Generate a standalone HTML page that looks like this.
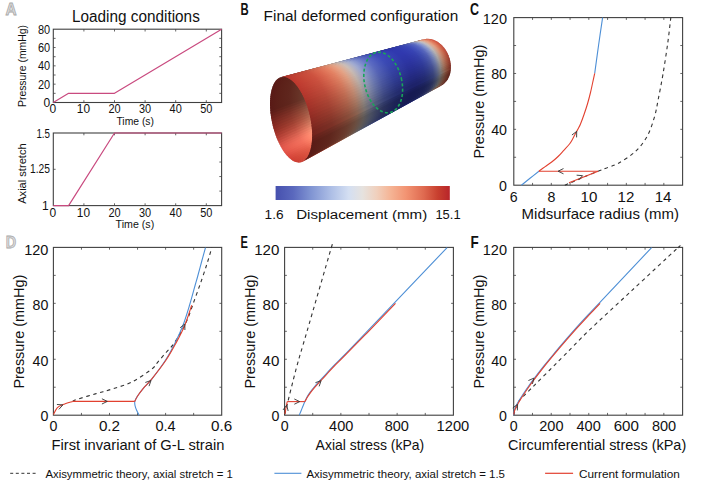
<!DOCTYPE html><html><head><meta charset="utf-8"><style>html,body{margin:0;padding:0;background:#fff;overflow:hidden}svg{display:block}text{font-family:"Liberation Sans", sans-serif}</style></head><body>
<svg width="709" height="488" viewBox="0 0 709 488">
<rect width="709" height="488" fill="#fff"/>
<g id="cyl"><defs><linearGradient id="g1" gradientUnits="userSpaceOnUse" x1="312.2" y1="136.5" x2="450.8" y2="69.4"><stop offset="0.000" stop-color="#6c201a"/><stop offset="0.073" stop-color="#70281f"/><stop offset="0.142" stop-color="#742e24"/><stop offset="0.206" stop-color="#7c3c2d"/><stop offset="0.267" stop-color="#824a39"/><stop offset="0.323" stop-color="#835d4d"/><stop offset="0.377" stop-color="#746c67"/><stop offset="0.428" stop-color="#5c6176"/><stop offset="0.476" stop-color="#454e74"/><stop offset="0.522" stop-color="#353d6f"/><stop offset="0.565" stop-color="#2b336c"/><stop offset="0.606" stop-color="#232b69"/><stop offset="0.645" stop-color="#202767"/><stop offset="0.682" stop-color="#1e2465"/><stop offset="0.718" stop-color="#1b2063"/><stop offset="0.752" stop-color="#1b2064"/><stop offset="0.784" stop-color="#1d2365"/><stop offset="0.815" stop-color="#202767"/><stop offset="0.845" stop-color="#27306b"/><stop offset="0.873" stop-color="#333c6f"/><stop offset="0.901" stop-color="#4d5576"/><stop offset="0.927" stop-color="#6f6d6d"/><stop offset="0.952" stop-color="#835d4c"/><stop offset="0.977" stop-color="#7f4231"/><stop offset="1.000" stop-color="#722a21"/></linearGradient><linearGradient id="g2" gradientUnits="userSpaceOnUse" x1="312.1" y1="139.3" x2="450.6" y2="71.0"><stop offset="0.000" stop-color="#661e19"/><stop offset="0.073" stop-color="#69251d"/><stop offset="0.142" stop-color="#6d2c22"/><stop offset="0.206" stop-color="#75382b"/><stop offset="0.266" stop-color="#7a4635"/><stop offset="0.323" stop-color="#7b5848"/><stop offset="0.377" stop-color="#6d6561"/><stop offset="0.428" stop-color="#565b6f"/><stop offset="0.476" stop-color="#41496d"/><stop offset="0.521" stop-color="#313a68"/><stop offset="0.565" stop-color="#283065"/><stop offset="0.606" stop-color="#202963"/><stop offset="0.645" stop-color="#1e2561"/><stop offset="0.682" stop-color="#1c225f"/><stop offset="0.718" stop-color="#1a1e5d"/><stop offset="0.752" stop-color="#1a1e5d"/><stop offset="0.784" stop-color="#1b215f"/><stop offset="0.815" stop-color="#1e2561"/><stop offset="0.845" stop-color="#252d64"/><stop offset="0.873" stop-color="#303868"/><stop offset="0.901" stop-color="#48506f"/><stop offset="0.927" stop-color="#696767"/><stop offset="0.952" stop-color="#7b5747"/><stop offset="0.977" stop-color="#783e2e"/><stop offset="1.000" stop-color="#6b281f"/></linearGradient><linearGradient id="g3" gradientUnits="userSpaceOnUse" x1="311.9" y1="142.0" x2="450.3" y2="72.6"><stop offset="0.000" stop-color="#5f1c17"/><stop offset="0.073" stop-color="#62231b"/><stop offset="0.142" stop-color="#662920"/><stop offset="0.206" stop-color="#6d3428"/><stop offset="0.266" stop-color="#724132"/><stop offset="0.323" stop-color="#735243"/><stop offset="0.377" stop-color="#665f5b"/><stop offset="0.428" stop-color="#505568"/><stop offset="0.476" stop-color="#3d4566"/><stop offset="0.521" stop-color="#2e3662"/><stop offset="0.564" stop-color="#252d5f"/><stop offset="0.605" stop-color="#1e265c"/><stop offset="0.645" stop-color="#1c235a"/><stop offset="0.682" stop-color="#1a1f59"/><stop offset="0.717" stop-color="#181c57"/><stop offset="0.751" stop-color="#181c57"/><stop offset="0.784" stop-color="#1a1f59"/><stop offset="0.815" stop-color="#1c225a"/><stop offset="0.845" stop-color="#222a5e"/><stop offset="0.873" stop-color="#2d3561"/><stop offset="0.901" stop-color="#434b67"/><stop offset="0.927" stop-color="#626060"/><stop offset="0.952" stop-color="#735243"/><stop offset="0.977" stop-color="#703a2b"/><stop offset="1.000" stop-color="#64251d"/></linearGradient><linearGradient id="g4" gradientUnits="userSpaceOnUse" x1="311.6" y1="144.6" x2="450.0" y2="74.1"><stop offset="0.000" stop-color="#591a16"/><stop offset="0.073" stop-color="#5c2119"/><stop offset="0.141" stop-color="#5f261d"/><stop offset="0.206" stop-color="#663125"/><stop offset="0.266" stop-color="#6a3d2f"/><stop offset="0.323" stop-color="#6b4d3f"/><stop offset="0.377" stop-color="#5f5855"/><stop offset="0.427" stop-color="#4b5061"/><stop offset="0.475" stop-color="#39405f"/><stop offset="0.521" stop-color="#2b325b"/><stop offset="0.564" stop-color="#232a58"/><stop offset="0.605" stop-color="#1c2356"/><stop offset="0.644" stop-color="#1a2055"/><stop offset="0.682" stop-color="#181d53"/><stop offset="0.717" stop-color="#161a52"/><stop offset="0.751" stop-color="#161b52"/><stop offset="0.784" stop-color="#181d53"/><stop offset="0.815" stop-color="#1a2054"/><stop offset="0.845" stop-color="#202758"/><stop offset="0.873" stop-color="#2a315b"/><stop offset="0.901" stop-color="#3f4661"/><stop offset="0.927" stop-color="#5b5a5a"/><stop offset="0.952" stop-color="#6c4c3e"/><stop offset="0.977" stop-color="#693629"/><stop offset="1.000" stop-color="#5d231b"/></linearGradient><linearGradient id="g5" gradientUnits="userSpaceOnUse" x1="311.2" y1="147.0" x2="449.5" y2="75.5"><stop offset="0.000" stop-color="#591a16"/><stop offset="0.073" stop-color="#5c2119"/><stop offset="0.141" stop-color="#5f261d"/><stop offset="0.205" stop-color="#663125"/><stop offset="0.266" stop-color="#6a3d2f"/><stop offset="0.323" stop-color="#6b4d3f"/><stop offset="0.376" stop-color="#5f5855"/><stop offset="0.427" stop-color="#4b5061"/><stop offset="0.475" stop-color="#39405f"/><stop offset="0.521" stop-color="#2b325b"/><stop offset="0.564" stop-color="#232a58"/><stop offset="0.605" stop-color="#1c2356"/><stop offset="0.644" stop-color="#1a2055"/><stop offset="0.681" stop-color="#181d53"/><stop offset="0.717" stop-color="#161a52"/><stop offset="0.751" stop-color="#161b52"/><stop offset="0.784" stop-color="#181d53"/><stop offset="0.815" stop-color="#1a2054"/><stop offset="0.844" stop-color="#202758"/><stop offset="0.873" stop-color="#2a315b"/><stop offset="0.900" stop-color="#3f4661"/><stop offset="0.927" stop-color="#5b5a5a"/><stop offset="0.952" stop-color="#6c4c3e"/><stop offset="0.977" stop-color="#693629"/><stop offset="1.000" stop-color="#5d231b"/></linearGradient><linearGradient id="g6" gradientUnits="userSpaceOnUse" x1="310.7" y1="149.3" x2="449.0" y2="76.9"><stop offset="0.000" stop-color="#591a16"/><stop offset="0.073" stop-color="#5c2119"/><stop offset="0.141" stop-color="#5f261d"/><stop offset="0.205" stop-color="#663125"/><stop offset="0.265" stop-color="#6a3d2f"/><stop offset="0.322" stop-color="#6b4d3f"/><stop offset="0.376" stop-color="#5f5855"/><stop offset="0.427" stop-color="#4b5061"/><stop offset="0.475" stop-color="#39405f"/><stop offset="0.520" stop-color="#2b325b"/><stop offset="0.563" stop-color="#232a58"/><stop offset="0.605" stop-color="#1c2356"/><stop offset="0.644" stop-color="#1a2055"/><stop offset="0.681" stop-color="#181d53"/><stop offset="0.717" stop-color="#161a52"/><stop offset="0.751" stop-color="#161b52"/><stop offset="0.783" stop-color="#181d53"/><stop offset="0.814" stop-color="#1a2054"/><stop offset="0.844" stop-color="#202758"/><stop offset="0.873" stop-color="#2a315b"/><stop offset="0.900" stop-color="#3f4661"/><stop offset="0.927" stop-color="#5b5a5a"/><stop offset="0.952" stop-color="#6c4c3e"/><stop offset="0.977" stop-color="#693629"/><stop offset="1.000" stop-color="#5d231b"/></linearGradient><linearGradient id="g7" gradientUnits="userSpaceOnUse" x1="310.1" y1="151.4" x2="448.4" y2="78.2"><stop offset="0.000" stop-color="#591a16"/><stop offset="0.073" stop-color="#5c2119"/><stop offset="0.141" stop-color="#5f261d"/><stop offset="0.205" stop-color="#663125"/><stop offset="0.265" stop-color="#6a3d2f"/><stop offset="0.322" stop-color="#6b4d3f"/><stop offset="0.375" stop-color="#5f5855"/><stop offset="0.426" stop-color="#4b5061"/><stop offset="0.474" stop-color="#39405f"/><stop offset="0.520" stop-color="#2b325b"/><stop offset="0.563" stop-color="#232a58"/><stop offset="0.604" stop-color="#1c2356"/><stop offset="0.643" stop-color="#1a2055"/><stop offset="0.681" stop-color="#181d53"/><stop offset="0.716" stop-color="#161a52"/><stop offset="0.750" stop-color="#161b52"/><stop offset="0.783" stop-color="#181d53"/><stop offset="0.814" stop-color="#1a2054"/><stop offset="0.844" stop-color="#202758"/><stop offset="0.873" stop-color="#2a315b"/><stop offset="0.900" stop-color="#3f4661"/><stop offset="0.927" stop-color="#5b5a5a"/><stop offset="0.952" stop-color="#6c4c3e"/><stop offset="0.976" stop-color="#693629"/><stop offset="1.000" stop-color="#5d231b"/></linearGradient><linearGradient id="g8" gradientUnits="userSpaceOnUse" x1="309.3" y1="153.3" x2="447.7" y2="79.5"><stop offset="0.000" stop-color="#591a16"/><stop offset="0.073" stop-color="#5c2119"/><stop offset="0.141" stop-color="#5f261d"/><stop offset="0.205" stop-color="#663125"/><stop offset="0.265" stop-color="#6a3d2f"/><stop offset="0.321" stop-color="#6b4d3f"/><stop offset="0.375" stop-color="#5f5855"/><stop offset="0.426" stop-color="#4b5061"/><stop offset="0.474" stop-color="#39405f"/><stop offset="0.519" stop-color="#2b325b"/><stop offset="0.563" stop-color="#232a58"/><stop offset="0.604" stop-color="#1c2356"/><stop offset="0.643" stop-color="#1a2055"/><stop offset="0.680" stop-color="#181d53"/><stop offset="0.716" stop-color="#161a52"/><stop offset="0.750" stop-color="#161b52"/><stop offset="0.783" stop-color="#181d53"/><stop offset="0.814" stop-color="#1a2054"/><stop offset="0.844" stop-color="#202758"/><stop offset="0.872" stop-color="#2a315b"/><stop offset="0.900" stop-color="#3f4661"/><stop offset="0.926" stop-color="#5b5a5a"/><stop offset="0.952" stop-color="#6c4c3e"/><stop offset="0.976" stop-color="#693629"/><stop offset="1.000" stop-color="#5d231b"/></linearGradient><linearGradient id="g9" gradientUnits="userSpaceOnUse" x1="308.6" y1="155.1" x2="446.9" y2="80.7"><stop offset="0.000" stop-color="#591a16"/><stop offset="0.072" stop-color="#5c2119"/><stop offset="0.140" stop-color="#5f261d"/><stop offset="0.204" stop-color="#663125"/><stop offset="0.264" stop-color="#6a3d2f"/><stop offset="0.321" stop-color="#6b4d3f"/><stop offset="0.375" stop-color="#5f5855"/><stop offset="0.425" stop-color="#4b5061"/><stop offset="0.473" stop-color="#39405f"/><stop offset="0.519" stop-color="#2b325b"/><stop offset="0.562" stop-color="#232a58"/><stop offset="0.603" stop-color="#1c2356"/><stop offset="0.642" stop-color="#1a2055"/><stop offset="0.680" stop-color="#181d53"/><stop offset="0.716" stop-color="#161a52"/><stop offset="0.750" stop-color="#161b52"/><stop offset="0.782" stop-color="#181d53"/><stop offset="0.814" stop-color="#1a2054"/><stop offset="0.844" stop-color="#202758"/><stop offset="0.872" stop-color="#2a315b"/><stop offset="0.900" stop-color="#3f4661"/><stop offset="0.926" stop-color="#5b5a5a"/><stop offset="0.952" stop-color="#6c4c3e"/><stop offset="0.976" stop-color="#693629"/><stop offset="1.000" stop-color="#5d231b"/></linearGradient><linearGradient id="g10" gradientUnits="userSpaceOnUse" x1="307.7" y1="156.7" x2="446.0" y2="81.7"><stop offset="0.000" stop-color="#591a16"/><stop offset="0.072" stop-color="#5c2119"/><stop offset="0.140" stop-color="#5f261d"/><stop offset="0.204" stop-color="#663125"/><stop offset="0.264" stop-color="#6a3d2f"/><stop offset="0.321" stop-color="#6b4d3f"/><stop offset="0.374" stop-color="#5f5855"/><stop offset="0.425" stop-color="#4b5061"/><stop offset="0.473" stop-color="#39405f"/><stop offset="0.518" stop-color="#2b325b"/><stop offset="0.562" stop-color="#232a58"/><stop offset="0.603" stop-color="#1c2356"/><stop offset="0.642" stop-color="#1a2055"/><stop offset="0.679" stop-color="#181d53"/><stop offset="0.715" stop-color="#161a52"/><stop offset="0.749" stop-color="#161b52"/><stop offset="0.782" stop-color="#181d53"/><stop offset="0.813" stop-color="#1a2054"/><stop offset="0.843" stop-color="#202758"/><stop offset="0.872" stop-color="#2a315b"/><stop offset="0.900" stop-color="#3f4661"/><stop offset="0.926" stop-color="#5b5a5a"/><stop offset="0.952" stop-color="#6c4c3e"/><stop offset="0.976" stop-color="#693629"/><stop offset="1.000" stop-color="#5d231b"/></linearGradient><linearGradient id="g11" gradientUnits="userSpaceOnUse" x1="306.7" y1="158.1" x2="445.1" y2="82.7"><stop offset="0.000" stop-color="#591a16"/><stop offset="0.072" stop-color="#5c2119"/><stop offset="0.140" stop-color="#5f261d"/><stop offset="0.204" stop-color="#663125"/><stop offset="0.264" stop-color="#6a3d2f"/><stop offset="0.320" stop-color="#6b4d3f"/><stop offset="0.374" stop-color="#5f5855"/><stop offset="0.424" stop-color="#4b5061"/><stop offset="0.472" stop-color="#39405f"/><stop offset="0.518" stop-color="#2b325b"/><stop offset="0.561" stop-color="#232a58"/><stop offset="0.602" stop-color="#1c2356"/><stop offset="0.641" stop-color="#1a2055"/><stop offset="0.679" stop-color="#181d53"/><stop offset="0.715" stop-color="#161a52"/><stop offset="0.749" stop-color="#161b52"/><stop offset="0.782" stop-color="#181d53"/><stop offset="0.813" stop-color="#1a2054"/><stop offset="0.843" stop-color="#202758"/><stop offset="0.872" stop-color="#2a315b"/><stop offset="0.899" stop-color="#3f4661"/><stop offset="0.926" stop-color="#5b5a5a"/><stop offset="0.952" stop-color="#6c4c3e"/><stop offset="0.976" stop-color="#693629"/><stop offset="1.000" stop-color="#5d231b"/></linearGradient><linearGradient id="g12" gradientUnits="userSpaceOnUse" x1="305.7" y1="159.3" x2="444.1" y2="83.6"><stop offset="0.000" stop-color="#591a16"/><stop offset="0.072" stop-color="#5c2119"/><stop offset="0.140" stop-color="#5f261d"/><stop offset="0.203" stop-color="#663125"/><stop offset="0.263" stop-color="#6a3d2f"/><stop offset="0.320" stop-color="#6b4d3f"/><stop offset="0.373" stop-color="#5f5855"/><stop offset="0.424" stop-color="#4b5061"/><stop offset="0.472" stop-color="#39405f"/><stop offset="0.517" stop-color="#2b325b"/><stop offset="0.560" stop-color="#232a58"/><stop offset="0.602" stop-color="#1c2356"/><stop offset="0.641" stop-color="#1a2055"/><stop offset="0.678" stop-color="#181d53"/><stop offset="0.714" stop-color="#161a52"/><stop offset="0.748" stop-color="#161b52"/><stop offset="0.781" stop-color="#181d53"/><stop offset="0.813" stop-color="#1a2054"/><stop offset="0.843" stop-color="#202758"/><stop offset="0.872" stop-color="#2a315b"/><stop offset="0.899" stop-color="#3f4661"/><stop offset="0.926" stop-color="#5b5a5a"/><stop offset="0.952" stop-color="#6c4c3e"/><stop offset="0.976" stop-color="#693629"/><stop offset="1.000" stop-color="#5d231b"/></linearGradient><linearGradient id="g13" gradientUnits="userSpaceOnUse" x1="304.6" y1="160.4" x2="443.1" y2="84.4"><stop offset="0.000" stop-color="#591a16"/><stop offset="0.072" stop-color="#5c2119"/><stop offset="0.139" stop-color="#5f261d"/><stop offset="0.203" stop-color="#663125"/><stop offset="0.263" stop-color="#6a3d2f"/><stop offset="0.319" stop-color="#6b4d3f"/><stop offset="0.373" stop-color="#5f5855"/><stop offset="0.423" stop-color="#4b5061"/><stop offset="0.471" stop-color="#39405f"/><stop offset="0.517" stop-color="#2b325b"/><stop offset="0.560" stop-color="#232a58"/><stop offset="0.601" stop-color="#1c2356"/><stop offset="0.640" stop-color="#1a2055"/><stop offset="0.678" stop-color="#181d53"/><stop offset="0.714" stop-color="#161a52"/><stop offset="0.748" stop-color="#161b52"/><stop offset="0.781" stop-color="#181d53"/><stop offset="0.812" stop-color="#1a2054"/><stop offset="0.842" stop-color="#202758"/><stop offset="0.871" stop-color="#2a315b"/><stop offset="0.899" stop-color="#3f4661"/><stop offset="0.926" stop-color="#5b5a5a"/><stop offset="0.951" stop-color="#6c4c3e"/><stop offset="0.976" stop-color="#693629"/><stop offset="1.000" stop-color="#5d231b"/></linearGradient><linearGradient id="g14" gradientUnits="userSpaceOnUse" x1="303.5" y1="161.2" x2="442.0" y2="85.2"><stop offset="0.000" stop-color="#591a16"/><stop offset="0.072" stop-color="#5c2119"/><stop offset="0.139" stop-color="#5f261d"/><stop offset="0.202" stop-color="#663125"/><stop offset="0.262" stop-color="#6a3d2f"/><stop offset="0.319" stop-color="#6b4d3f"/><stop offset="0.372" stop-color="#5f5855"/><stop offset="0.422" stop-color="#4b5061"/><stop offset="0.470" stop-color="#39405f"/><stop offset="0.516" stop-color="#2b325b"/><stop offset="0.559" stop-color="#232a58"/><stop offset="0.601" stop-color="#1c2356"/><stop offset="0.640" stop-color="#1a2055"/><stop offset="0.677" stop-color="#181d53"/><stop offset="0.713" stop-color="#161a52"/><stop offset="0.748" stop-color="#161b52"/><stop offset="0.780" stop-color="#181d53"/><stop offset="0.812" stop-color="#1a2054"/><stop offset="0.842" stop-color="#202758"/><stop offset="0.871" stop-color="#2a315b"/><stop offset="0.899" stop-color="#3f4661"/><stop offset="0.926" stop-color="#5b5a5a"/><stop offset="0.951" stop-color="#6c4c3e"/><stop offset="0.976" stop-color="#693629"/><stop offset="1.000" stop-color="#5d231b"/></linearGradient><linearGradient id="g15" gradientUnits="userSpaceOnUse" x1="302.3" y1="161.8" x2="440.9" y2="85.8"><stop offset="0.000" stop-color="#c0392f"/><stop offset="0.072" stop-color="#c74637"/><stop offset="0.139" stop-color="#ce5240"/><stop offset="0.202" stop-color="#dc6a50"/><stop offset="0.262" stop-color="#e68465"/><stop offset="0.318" stop-color="#e8a588"/><stop offset="0.371" stop-color="#cebfb7"/><stop offset="0.422" stop-color="#a2acd2"/><stop offset="0.470" stop-color="#7b8bce"/><stop offset="0.515" stop-color="#5d6dc5"/><stop offset="0.559" stop-color="#4c5bbf"/><stop offset="0.600" stop-color="#3d4cba"/><stop offset="0.639" stop-color="#3946b7"/><stop offset="0.677" stop-color="#3540b4"/><stop offset="0.713" stop-color="#3039b0"/><stop offset="0.747" stop-color="#3139b0"/><stop offset="0.780" stop-color="#343eb3"/><stop offset="0.811" stop-color="#3945b6"/><stop offset="0.842" stop-color="#4655bd"/><stop offset="0.871" stop-color="#5b6bc4"/><stop offset="0.899" stop-color="#8897d1"/><stop offset="0.925" stop-color="#c6c2c2"/><stop offset="0.951" stop-color="#e8a587"/><stop offset="0.976" stop-color="#e27557"/><stop offset="1.000" stop-color="#ca4b3a"/></linearGradient><linearGradient id="g16" gradientUnits="userSpaceOnUse" x1="301.1" y1="162.2" x2="439.7" y2="86.3"><stop offset="0.000" stop-color="#c33a30"/><stop offset="0.071" stop-color="#ca4838"/><stop offset="0.138" stop-color="#d25441"/><stop offset="0.202" stop-color="#e06b52"/><stop offset="0.261" stop-color="#ea8666"/><stop offset="0.317" stop-color="#eca98a"/><stop offset="0.371" stop-color="#d1c3bb"/><stop offset="0.421" stop-color="#a5b0d6"/><stop offset="0.469" stop-color="#7d8dd2"/><stop offset="0.515" stop-color="#5f6fc9"/><stop offset="0.558" stop-color="#4d5dc3"/><stop offset="0.599" stop-color="#3e4ebd"/><stop offset="0.639" stop-color="#3a47ba"/><stop offset="0.676" stop-color="#3641b7"/><stop offset="0.712" stop-color="#313ab4"/><stop offset="0.747" stop-color="#323ab4"/><stop offset="0.779" stop-color="#353fb6"/><stop offset="0.811" stop-color="#3a47ba"/><stop offset="0.841" stop-color="#4757c1"/><stop offset="0.870" stop-color="#5d6dc8"/><stop offset="0.898" stop-color="#8a9ad5"/><stop offset="0.925" stop-color="#c9c5c5"/><stop offset="0.951" stop-color="#eda889"/><stop offset="0.976" stop-color="#e67759"/><stop offset="1.000" stop-color="#cd4d3b"/></linearGradient><linearGradient id="g17" gradientUnits="userSpaceOnUse" x1="299.8" y1="162.5" x2="438.5" y2="86.6"><stop offset="0.000" stop-color="#c63b30"/><stop offset="0.071" stop-color="#cd4939"/><stop offset="0.138" stop-color="#d55542"/><stop offset="0.201" stop-color="#e46d53"/><stop offset="0.261" stop-color="#ee8868"/><stop offset="0.317" stop-color="#f0ab8c"/><stop offset="0.370" stop-color="#d5c6be"/><stop offset="0.421" stop-color="#a8b2d9"/><stop offset="0.468" stop-color="#7f8fd5"/><stop offset="0.514" stop-color="#6171cc"/><stop offset="0.557" stop-color="#4e5ec6"/><stop offset="0.599" stop-color="#3f4fc0"/><stop offset="0.638" stop-color="#3b48bd"/><stop offset="0.676" stop-color="#3742ba"/><stop offset="0.712" stop-color="#323bb6"/><stop offset="0.746" stop-color="#323bb7"/><stop offset="0.779" stop-color="#3640b9"/><stop offset="0.811" stop-color="#3b48bd"/><stop offset="0.841" stop-color="#4858c4"/><stop offset="0.870" stop-color="#5e6ecb"/><stop offset="0.898" stop-color="#8c9dd8"/><stop offset="0.925" stop-color="#ccc8c8"/><stop offset="0.951" stop-color="#f0ab8b"/><stop offset="0.976" stop-color="#ea795b"/><stop offset="1.000" stop-color="#d04e3c"/></linearGradient><linearGradient id="g18" gradientUnits="userSpaceOnUse" x1="298.5" y1="162.5" x2="437.3" y2="86.9"><stop offset="0.000" stop-color="#c93c31"/><stop offset="0.071" stop-color="#d04a39"/><stop offset="0.138" stop-color="#d85643"/><stop offset="0.201" stop-color="#e76f54"/><stop offset="0.260" stop-color="#f18a69"/><stop offset="0.316" stop-color="#f3ad8e"/><stop offset="0.369" stop-color="#d7c8c0"/><stop offset="0.420" stop-color="#aab5dc"/><stop offset="0.468" stop-color="#8191d8"/><stop offset="0.513" stop-color="#6272ce"/><stop offset="0.557" stop-color="#4f60c8"/><stop offset="0.598" stop-color="#4050c3"/><stop offset="0.637" stop-color="#3c49c0"/><stop offset="0.675" stop-color="#3743bc"/><stop offset="0.711" stop-color="#333cb9"/><stop offset="0.746" stop-color="#333cb9"/><stop offset="0.779" stop-color="#3641bb"/><stop offset="0.810" stop-color="#3b49bf"/><stop offset="0.841" stop-color="#4959c6"/><stop offset="0.870" stop-color="#5f70ce"/><stop offset="0.898" stop-color="#8e9fdb"/><stop offset="0.925" stop-color="#cfcbcb"/><stop offset="0.951" stop-color="#f3ad8d"/><stop offset="0.976" stop-color="#ed7b5c"/><stop offset="1.000" stop-color="#d34f3d"/></linearGradient><linearGradient id="g19" gradientUnits="userSpaceOnUse" x1="297.1" y1="162.3" x2="436.0" y2="87.1"><stop offset="0.000" stop-color="#cb3c31"/><stop offset="0.071" stop-color="#d24b3a"/><stop offset="0.137" stop-color="#da5743"/><stop offset="0.200" stop-color="#e97055"/><stop offset="0.260" stop-color="#f38b6a"/><stop offset="0.316" stop-color="#f6af90"/><stop offset="0.369" stop-color="#dacac2"/><stop offset="0.419" stop-color="#acb7de"/><stop offset="0.467" stop-color="#8293da"/><stop offset="0.513" stop-color="#6373d1"/><stop offset="0.556" stop-color="#5061ca"/><stop offset="0.597" stop-color="#4151c5"/><stop offset="0.637" stop-color="#3c4ac2"/><stop offset="0.674" stop-color="#3843be"/><stop offset="0.711" stop-color="#333cbb"/><stop offset="0.745" stop-color="#333dbb"/><stop offset="0.778" stop-color="#3742bd"/><stop offset="0.810" stop-color="#3c4ac1"/><stop offset="0.840" stop-color="#4a5ac8"/><stop offset="0.869" stop-color="#6071d0"/><stop offset="0.898" stop-color="#90a0dd"/><stop offset="0.925" stop-color="#d1cdcd"/><stop offset="0.951" stop-color="#f6af8f"/><stop offset="0.976" stop-color="#ef7c5d"/><stop offset="1.000" stop-color="#d6503e"/></linearGradient><linearGradient id="g20" gradientUnits="userSpaceOnUse" x1="295.8" y1="162.0" x2="434.7" y2="87.2"><stop offset="0.000" stop-color="#cd3d32"/><stop offset="0.071" stop-color="#d44b3a"/><stop offset="0.137" stop-color="#dc5844"/><stop offset="0.200" stop-color="#eb7156"/><stop offset="0.259" stop-color="#f58d6b"/><stop offset="0.315" stop-color="#f8b191"/><stop offset="0.368" stop-color="#dbccc4"/><stop offset="0.419" stop-color="#adb8e0"/><stop offset="0.466" stop-color="#8394dc"/><stop offset="0.512" stop-color="#6474d2"/><stop offset="0.555" stop-color="#5161cc"/><stop offset="0.597" stop-color="#4252c7"/><stop offset="0.636" stop-color="#3d4bc3"/><stop offset="0.674" stop-color="#3844c0"/><stop offset="0.710" stop-color="#343dbc"/><stop offset="0.744" stop-color="#343dbc"/><stop offset="0.778" stop-color="#3743bf"/><stop offset="0.809" stop-color="#3d4ac3"/><stop offset="0.840" stop-color="#4a5bca"/><stop offset="0.869" stop-color="#6172d2"/><stop offset="0.897" stop-color="#91a2df"/><stop offset="0.924" stop-color="#d3cfcf"/><stop offset="0.951" stop-color="#f8b090"/><stop offset="0.976" stop-color="#f17d5e"/><stop offset="1.000" stop-color="#d7503e"/></linearGradient><linearGradient id="g21" gradientUnits="userSpaceOnUse" x1="294.4" y1="161.5" x2="433.5" y2="87.2"><stop offset="0.000" stop-color="#ce3d32"/><stop offset="0.070" stop-color="#d54c3b"/><stop offset="0.137" stop-color="#dd5945"/><stop offset="0.199" stop-color="#ec7157"/><stop offset="0.259" stop-color="#f78e6c"/><stop offset="0.315" stop-color="#f9b292"/><stop offset="0.368" stop-color="#ddcdc5"/><stop offset="0.418" stop-color="#afb9e2"/><stop offset="0.466" stop-color="#8495dd"/><stop offset="0.511" stop-color="#6475d4"/><stop offset="0.555" stop-color="#5162cd"/><stop offset="0.596" stop-color="#4252c8"/><stop offset="0.636" stop-color="#3e4bc5"/><stop offset="0.673" stop-color="#3944c1"/><stop offset="0.709" stop-color="#343ebe"/><stop offset="0.744" stop-color="#343ebe"/><stop offset="0.777" stop-color="#3843c0"/><stop offset="0.809" stop-color="#3d4bc4"/><stop offset="0.840" stop-color="#4b5ccb"/><stop offset="0.869" stop-color="#6273d3"/><stop offset="0.897" stop-color="#92a3e1"/><stop offset="0.924" stop-color="#d5d0d0"/><stop offset="0.950" stop-color="#fab191"/><stop offset="0.976" stop-color="#f37e5e"/><stop offset="1.000" stop-color="#d9513f"/></linearGradient><linearGradient id="g22" gradientUnits="userSpaceOnUse" x1="293.1" y1="160.8" x2="432.2" y2="87.0"><stop offset="0.000" stop-color="#cf3e33"/><stop offset="0.070" stop-color="#d64c3b"/><stop offset="0.137" stop-color="#df5945"/><stop offset="0.199" stop-color="#ee7257"/><stop offset="0.258" stop-color="#f88e6d"/><stop offset="0.314" stop-color="#fbb393"/><stop offset="0.367" stop-color="#decfc6"/><stop offset="0.417" stop-color="#b0bae3"/><stop offset="0.465" stop-color="#8596de"/><stop offset="0.511" stop-color="#6576d5"/><stop offset="0.554" stop-color="#5263cf"/><stop offset="0.595" stop-color="#4353c9"/><stop offset="0.635" stop-color="#3e4cc6"/><stop offset="0.673" stop-color="#3a45c2"/><stop offset="0.709" stop-color="#353ebf"/><stop offset="0.743" stop-color="#353fbf"/><stop offset="0.777" stop-color="#3944c2"/><stop offset="0.809" stop-color="#3e4cc5"/><stop offset="0.839" stop-color="#4c5dcd"/><stop offset="0.869" stop-color="#6374d4"/><stop offset="0.897" stop-color="#93a4e2"/><stop offset="0.924" stop-color="#d6d1d1"/><stop offset="0.950" stop-color="#fbb292"/><stop offset="0.976" stop-color="#f47f5f"/><stop offset="1.000" stop-color="#da5240"/></linearGradient><linearGradient id="g23" gradientUnits="userSpaceOnUse" x1="291.7" y1="159.9" x2="430.9" y2="86.8"><stop offset="0.000" stop-color="#d03f34"/><stop offset="0.070" stop-color="#d84d3c"/><stop offset="0.136" stop-color="#e05a46"/><stop offset="0.199" stop-color="#ef7358"/><stop offset="0.258" stop-color="#fa906e"/><stop offset="0.313" stop-color="#fcb494"/><stop offset="0.366" stop-color="#e0d0c8"/><stop offset="0.417" stop-color="#b1bce4"/><stop offset="0.464" stop-color="#8797e0"/><stop offset="0.510" stop-color="#6677d6"/><stop offset="0.553" stop-color="#5364d0"/><stop offset="0.595" stop-color="#4454cb"/><stop offset="0.634" stop-color="#3f4dc7"/><stop offset="0.672" stop-color="#3b46c4"/><stop offset="0.708" stop-color="#363fc0"/><stop offset="0.743" stop-color="#3640c0"/><stop offset="0.776" stop-color="#3a45c3"/><stop offset="0.808" stop-color="#3f4dc7"/><stop offset="0.839" stop-color="#4d5ece"/><stop offset="0.868" stop-color="#6475d6"/><stop offset="0.897" stop-color="#94a5e3"/><stop offset="0.924" stop-color="#d7d3d3"/><stop offset="0.950" stop-color="#fcb493"/><stop offset="0.976" stop-color="#f58060"/><stop offset="1.000" stop-color="#db5340"/></linearGradient><linearGradient id="g24" gradientUnits="userSpaceOnUse" x1="290.3" y1="158.9" x2="429.6" y2="86.5"><stop offset="0.000" stop-color="#d24035"/><stop offset="0.070" stop-color="#d94f3e"/><stop offset="0.136" stop-color="#e25c48"/><stop offset="0.198" stop-color="#f1755a"/><stop offset="0.257" stop-color="#fc9170"/><stop offset="0.313" stop-color="#feb696"/><stop offset="0.366" stop-color="#e1d2c9"/><stop offset="0.416" stop-color="#b3bee6"/><stop offset="0.464" stop-color="#8899e2"/><stop offset="0.509" stop-color="#6879d8"/><stop offset="0.553" stop-color="#5566d2"/><stop offset="0.594" stop-color="#4656cc"/><stop offset="0.634" stop-color="#414fc9"/><stop offset="0.672" stop-color="#3c48c5"/><stop offset="0.708" stop-color="#3741c2"/><stop offset="0.742" stop-color="#3841c2"/><stop offset="0.776" stop-color="#3b46c4"/><stop offset="0.808" stop-color="#404ec8"/><stop offset="0.838" stop-color="#4e5fcf"/><stop offset="0.868" stop-color="#6576d7"/><stop offset="0.896" stop-color="#96a6e5"/><stop offset="0.924" stop-color="#d8d4d4"/><stop offset="0.950" stop-color="#feb594"/><stop offset="0.975" stop-color="#f78161"/><stop offset="1.000" stop-color="#dc5442"/></linearGradient><linearGradient id="g25" gradientUnits="userSpaceOnUse" x1="289.0" y1="157.7" x2="428.3" y2="86.0"><stop offset="0.000" stop-color="#d54338"/><stop offset="0.070" stop-color="#dc5241"/><stop offset="0.136" stop-color="#e45f4a"/><stop offset="0.198" stop-color="#f3785d"/><stop offset="0.257" stop-color="#fe9472"/><stop offset="0.312" stop-color="#ffb999"/><stop offset="0.365" stop-color="#e4d4cc"/><stop offset="0.415" stop-color="#b5c0e9"/><stop offset="0.463" stop-color="#8b9ce4"/><stop offset="0.509" stop-color="#6b7bdb"/><stop offset="0.552" stop-color="#5768d4"/><stop offset="0.593" stop-color="#4858cf"/><stop offset="0.633" stop-color="#4351cb"/><stop offset="0.671" stop-color="#3e4ac7"/><stop offset="0.707" stop-color="#3a43c4"/><stop offset="0.742" stop-color="#3a43c4"/><stop offset="0.775" stop-color="#3d48c6"/><stop offset="0.807" stop-color="#4250ca"/><stop offset="0.838" stop-color="#5061d1"/><stop offset="0.868" stop-color="#6778d9"/><stop offset="0.896" stop-color="#97a8e6"/><stop offset="0.924" stop-color="#dad5d5"/><stop offset="0.950" stop-color="#ffb696"/><stop offset="0.975" stop-color="#f88363"/><stop offset="1.000" stop-color="#dd5543"/></linearGradient><linearGradient id="g26" gradientUnits="userSpaceOnUse" x1="287.7" y1="156.4" x2="427.1" y2="85.5"><stop offset="0.000" stop-color="#d8463b"/><stop offset="0.070" stop-color="#df5544"/><stop offset="0.135" stop-color="#e8624e"/><stop offset="0.197" stop-color="#f77b60"/><stop offset="0.256" stop-color="#ff9776"/><stop offset="0.312" stop-color="#ffbc9c"/><stop offset="0.365" stop-color="#e7d8cf"/><stop offset="0.415" stop-color="#b9c3ec"/><stop offset="0.462" stop-color="#8e9fe7"/><stop offset="0.508" stop-color="#6e7fde"/><stop offset="0.551" stop-color="#5b6bd7"/><stop offset="0.593" stop-color="#4b5bd1"/><stop offset="0.632" stop-color="#4654ce"/><stop offset="0.670" stop-color="#414dca"/><stop offset="0.707" stop-color="#3c46c6"/><stop offset="0.741" stop-color="#3c46c6"/><stop offset="0.775" stop-color="#404bc9"/><stop offset="0.807" stop-color="#4552cc"/><stop offset="0.838" stop-color="#5263d3"/><stop offset="0.867" stop-color="#697ada"/><stop offset="0.896" stop-color="#99aae8"/><stop offset="0.923" stop-color="#dbd7d7"/><stop offset="0.950" stop-color="#ffb897"/><stop offset="0.975" stop-color="#f98464"/><stop offset="1.000" stop-color="#df5745"/></linearGradient><linearGradient id="g27" gradientUnits="userSpaceOnUse" x1="286.4" y1="154.9" x2="425.8" y2="84.9"><stop offset="0.000" stop-color="#dc4b40"/><stop offset="0.069" stop-color="#e35949"/><stop offset="0.135" stop-color="#ec6652"/><stop offset="0.197" stop-color="#fb7f64"/><stop offset="0.256" stop-color="#ff9c7a"/><stop offset="0.311" stop-color="#ffc0a0"/><stop offset="0.364" stop-color="#ebdbd3"/><stop offset="0.414" stop-color="#bcc7f0"/><stop offset="0.462" stop-color="#92a2eb"/><stop offset="0.507" stop-color="#7182e1"/><stop offset="0.551" stop-color="#5e6fda"/><stop offset="0.592" stop-color="#4e5fd5"/><stop offset="0.632" stop-color="#4a57d1"/><stop offset="0.670" stop-color="#4550cd"/><stop offset="0.706" stop-color="#4049c9"/><stop offset="0.741" stop-color="#3f49c9"/><stop offset="0.774" stop-color="#434ecb"/><stop offset="0.807" stop-color="#4755ce"/><stop offset="0.837" stop-color="#5566d5"/><stop offset="0.867" stop-color="#6c7cdc"/><stop offset="0.896" stop-color="#9bace9"/><stop offset="0.923" stop-color="#ddd8d8"/><stop offset="0.950" stop-color="#ffb999"/><stop offset="0.975" stop-color="#fa8666"/><stop offset="1.000" stop-color="#e05947"/></linearGradient><linearGradient id="g28" gradientUnits="userSpaceOnUse" x1="285.1" y1="153.3" x2="424.6" y2="84.2"><stop offset="0.000" stop-color="#e04f44"/><stop offset="0.069" stop-color="#e75e4d"/><stop offset="0.135" stop-color="#ef6b57"/><stop offset="0.197" stop-color="#fe8469"/><stop offset="0.255" stop-color="#ffa07e"/><stop offset="0.311" stop-color="#ffc4a4"/><stop offset="0.363" stop-color="#eedfd7"/><stop offset="0.414" stop-color="#c0cbf3"/><stop offset="0.461" stop-color="#95a6ee"/><stop offset="0.507" stop-color="#7586e4"/><stop offset="0.550" stop-color="#6272dd"/><stop offset="0.592" stop-color="#5262d7"/><stop offset="0.631" stop-color="#4d5bd3"/><stop offset="0.669" stop-color="#4853cf"/><stop offset="0.706" stop-color="#434ccb"/><stop offset="0.741" stop-color="#424ccb"/><stop offset="0.774" stop-color="#4550cd"/><stop offset="0.806" stop-color="#4a58d0"/><stop offset="0.837" stop-color="#5768d7"/><stop offset="0.867" stop-color="#6e7ede"/><stop offset="0.895" stop-color="#9dadea"/><stop offset="0.923" stop-color="#ded9da"/><stop offset="0.950" stop-color="#ffbb9b"/><stop offset="0.975" stop-color="#fb8868"/><stop offset="1.000" stop-color="#e05a49"/></linearGradient><linearGradient id="g29" gradientUnits="userSpaceOnUse" x1="283.8" y1="151.6" x2="423.4" y2="83.4"><stop offset="0.000" stop-color="#e35348"/><stop offset="0.069" stop-color="#ea6251"/><stop offset="0.134" stop-color="#f26e5a"/><stop offset="0.196" stop-color="#ff876c"/><stop offset="0.255" stop-color="#ffa381"/><stop offset="0.310" stop-color="#ffc6a7"/><stop offset="0.363" stop-color="#f1e1d9"/><stop offset="0.413" stop-color="#c2cdf5"/><stop offset="0.461" stop-color="#98a9f0"/><stop offset="0.506" stop-color="#7888e6"/><stop offset="0.550" stop-color="#6575df"/><stop offset="0.591" stop-color="#5565d9"/><stop offset="0.631" stop-color="#505dd5"/><stop offset="0.669" stop-color="#4b56d1"/><stop offset="0.705" stop-color="#454ecd"/><stop offset="0.740" stop-color="#454ecc"/><stop offset="0.774" stop-color="#4853ce"/><stop offset="0.806" stop-color="#4c5ad1"/><stop offset="0.837" stop-color="#596ad7"/><stop offset="0.867" stop-color="#6f80de"/><stop offset="0.895" stop-color="#9eaeeb"/><stop offset="0.923" stop-color="#dedada"/><stop offset="0.949" stop-color="#ffbb9b"/><stop offset="0.975" stop-color="#fa8869"/><stop offset="1.000" stop-color="#e05c4a"/></linearGradient><linearGradient id="g30" gradientUnits="userSpaceOnUse" x1="282.6" y1="149.7" x2="422.3" y2="82.5"><stop offset="0.000" stop-color="#e3554b"/><stop offset="0.069" stop-color="#eb6453"/><stop offset="0.134" stop-color="#f3705d"/><stop offset="0.196" stop-color="#ff896e"/><stop offset="0.254" stop-color="#ffa483"/><stop offset="0.310" stop-color="#ffc7a8"/><stop offset="0.362" stop-color="#f1e2da"/><stop offset="0.412" stop-color="#c3cef5"/><stop offset="0.460" stop-color="#99aaf0"/><stop offset="0.506" stop-color="#798ae6"/><stop offset="0.549" stop-color="#6676df"/><stop offset="0.591" stop-color="#5766d9"/><stop offset="0.630" stop-color="#515fd5"/><stop offset="0.668" stop-color="#4c57d1"/><stop offset="0.705" stop-color="#4750cc"/><stop offset="0.740" stop-color="#4650cc"/><stop offset="0.773" stop-color="#4954ce"/><stop offset="0.805" stop-color="#4d5bd0"/><stop offset="0.836" stop-color="#5a6ad6"/><stop offset="0.866" stop-color="#7080dd"/><stop offset="0.895" stop-color="#9daee9"/><stop offset="0.923" stop-color="#ddd9d9"/><stop offset="0.949" stop-color="#ffba9b"/><stop offset="0.975" stop-color="#f98869"/><stop offset="1.000" stop-color="#df5c4a"/></linearGradient><linearGradient id="g31" gradientUnits="userSpaceOnUse" x1="281.4" y1="147.8" x2="421.2" y2="81.6"><stop offset="0.000" stop-color="#e1564b"/><stop offset="0.069" stop-color="#e96453"/><stop offset="0.134" stop-color="#f0705d"/><stop offset="0.196" stop-color="#ff886e"/><stop offset="0.254" stop-color="#ffa383"/><stop offset="0.309" stop-color="#ffc6a7"/><stop offset="0.362" stop-color="#efe0d8"/><stop offset="0.412" stop-color="#c1ccf3"/><stop offset="0.460" stop-color="#98a8ee"/><stop offset="0.505" stop-color="#7989e4"/><stop offset="0.549" stop-color="#6676dd"/><stop offset="0.590" stop-color="#5666d7"/><stop offset="0.630" stop-color="#515fd3"/><stop offset="0.668" stop-color="#4c57ce"/><stop offset="0.704" stop-color="#4750ca"/><stop offset="0.739" stop-color="#464fca"/><stop offset="0.773" stop-color="#4954cb"/><stop offset="0.805" stop-color="#4d5ace"/><stop offset="0.836" stop-color="#5a6ad4"/><stop offset="0.866" stop-color="#6f7fda"/><stop offset="0.895" stop-color="#9cace6"/><stop offset="0.923" stop-color="#dad6d6"/><stop offset="0.949" stop-color="#fcb899"/><stop offset="0.975" stop-color="#f58768"/><stop offset="1.000" stop-color="#dc5b4a"/></linearGradient><linearGradient id="g32" gradientUnits="userSpaceOnUse" x1="280.3" y1="145.7" x2="420.1" y2="80.6"><stop offset="0.000" stop-color="#dc5449"/><stop offset="0.069" stop-color="#e36151"/><stop offset="0.134" stop-color="#eb6d5a"/><stop offset="0.195" stop-color="#f9856b"/><stop offset="0.254" stop-color="#ff9f80"/><stop offset="0.309" stop-color="#ffc1a3"/><stop offset="0.361" stop-color="#e9dad3"/><stop offset="0.411" stop-color="#bdc7ed"/><stop offset="0.459" stop-color="#95a4e8"/><stop offset="0.505" stop-color="#7686df"/><stop offset="0.548" stop-color="#6473d8"/><stop offset="0.590" stop-color="#5464d2"/><stop offset="0.629" stop-color="#4f5cce"/><stop offset="0.667" stop-color="#4a55ca"/><stop offset="0.704" stop-color="#454ec6"/><stop offset="0.739" stop-color="#454ec5"/><stop offset="0.773" stop-color="#4752c7"/><stop offset="0.805" stop-color="#4b58c9"/><stop offset="0.836" stop-color="#5867cf"/><stop offset="0.866" stop-color="#6c7cd5"/><stop offset="0.895" stop-color="#98a8e1"/><stop offset="0.922" stop-color="#d5d1d1"/><stop offset="0.949" stop-color="#f7b496"/><stop offset="0.975" stop-color="#f08466"/><stop offset="1.000" stop-color="#d75948"/></linearGradient><linearGradient id="g33" gradientUnits="userSpaceOnUse" x1="279.2" y1="143.6" x2="419.1" y2="79.5"><stop offset="0.000" stop-color="#d44f45"/><stop offset="0.069" stop-color="#db5d4d"/><stop offset="0.133" stop-color="#e26856"/><stop offset="0.195" stop-color="#f07f66"/><stop offset="0.253" stop-color="#f9997a"/><stop offset="0.308" stop-color="#fbba9d"/><stop offset="0.361" stop-color="#e1d3cb"/><stop offset="0.411" stop-color="#b6c0e5"/><stop offset="0.459" stop-color="#8f9ee0"/><stop offset="0.504" stop-color="#7180d7"/><stop offset="0.548" stop-color="#5f6ed0"/><stop offset="0.589" stop-color="#515fcb"/><stop offset="0.629" stop-color="#4c59c7"/><stop offset="0.667" stop-color="#4752c3"/><stop offset="0.703" stop-color="#424bbf"/><stop offset="0.739" stop-color="#424abf"/><stop offset="0.772" stop-color="#444ec0"/><stop offset="0.805" stop-color="#4855c3"/><stop offset="0.836" stop-color="#5464c9"/><stop offset="0.866" stop-color="#6978cf"/><stop offset="0.894" stop-color="#93a2da"/><stop offset="0.922" stop-color="#cfcbcb"/><stop offset="0.949" stop-color="#f0ae91"/><stop offset="0.975" stop-color="#e97f63"/><stop offset="1.000" stop-color="#d05646"/></linearGradient><linearGradient id="g34" gradientUnits="userSpaceOnUse" x1="278.2" y1="141.4" x2="418.1" y2="78.4"><stop offset="0.000" stop-color="#c9493f"/><stop offset="0.069" stop-color="#d05647"/><stop offset="0.133" stop-color="#d76250"/><stop offset="0.195" stop-color="#e57860"/><stop offset="0.253" stop-color="#ee9073"/><stop offset="0.308" stop-color="#f0b094"/><stop offset="0.361" stop-color="#d6c9c1"/><stop offset="0.411" stop-color="#adb7da"/><stop offset="0.458" stop-color="#8796d6"/><stop offset="0.504" stop-color="#6b79cd"/><stop offset="0.547" stop-color="#5a68c7"/><stop offset="0.589" stop-color="#4c5ac2"/><stop offset="0.628" stop-color="#4753be"/><stop offset="0.667" stop-color="#424dba"/><stop offset="0.703" stop-color="#3e46b7"/><stop offset="0.738" stop-color="#3e46b6"/><stop offset="0.772" stop-color="#404ab8"/><stop offset="0.804" stop-color="#4450bb"/><stop offset="0.835" stop-color="#505fc1"/><stop offset="0.865" stop-color="#6472c7"/><stop offset="0.894" stop-color="#8d9cd2"/><stop offset="0.922" stop-color="#c7c3c3"/><stop offset="0.949" stop-color="#e7a78b"/><stop offset="0.975" stop-color="#e07a5e"/><stop offset="1.000" stop-color="#c95242"/></linearGradient><linearGradient id="g35" gradientUnits="userSpaceOnUse" x1="277.2" y1="139.1" x2="417.2" y2="77.2"><stop offset="0.000" stop-color="#be4239"/><stop offset="0.068" stop-color="#c44f41"/><stop offset="0.133" stop-color="#cb5a49"/><stop offset="0.194" stop-color="#d86f58"/><stop offset="0.253" stop-color="#e1876b"/><stop offset="0.308" stop-color="#e3a68b"/><stop offset="0.360" stop-color="#cbbeb6"/><stop offset="0.410" stop-color="#a3accf"/><stop offset="0.458" stop-color="#7f8dcb"/><stop offset="0.503" stop-color="#6372c2"/><stop offset="0.547" stop-color="#5361bd"/><stop offset="0.588" stop-color="#4653b7"/><stop offset="0.628" stop-color="#414db4"/><stop offset="0.666" stop-color="#3d47b1"/><stop offset="0.703" stop-color="#3941ad"/><stop offset="0.738" stop-color="#3941ad"/><stop offset="0.772" stop-color="#3b45af"/><stop offset="0.804" stop-color="#3f4bb2"/><stop offset="0.835" stop-color="#4b59b7"/><stop offset="0.865" stop-color="#5e6cbd"/><stop offset="0.894" stop-color="#8694c8"/><stop offset="0.922" stop-color="#bebaba"/><stop offset="0.949" stop-color="#dda084"/><stop offset="0.975" stop-color="#d67459"/><stop offset="1.000" stop-color="#c04d3e"/></linearGradient><linearGradient id="g36" gradientUnits="userSpaceOnUse" x1="276.2" y1="136.8" x2="416.3" y2="75.9"><stop offset="0.000" stop-color="#b23c33"/><stop offset="0.068" stop-color="#b8483a"/><stop offset="0.133" stop-color="#bf5242"/><stop offset="0.194" stop-color="#cb6751"/><stop offset="0.252" stop-color="#d47e63"/><stop offset="0.307" stop-color="#d69c82"/><stop offset="0.360" stop-color="#bfb2ab"/><stop offset="0.410" stop-color="#99a2c3"/><stop offset="0.457" stop-color="#7684bf"/><stop offset="0.503" stop-color="#5c6ab7"/><stop offset="0.546" stop-color="#4c5ab2"/><stop offset="0.588" stop-color="#404dad"/><stop offset="0.628" stop-color="#3c47aa"/><stop offset="0.666" stop-color="#3841a7"/><stop offset="0.702" stop-color="#343ba4"/><stop offset="0.738" stop-color="#343ba4"/><stop offset="0.771" stop-color="#363fa5"/><stop offset="0.804" stop-color="#3a45a8"/><stop offset="0.835" stop-color="#4553ae"/><stop offset="0.865" stop-color="#5865b4"/><stop offset="0.894" stop-color="#7f8cbf"/><stop offset="0.922" stop-color="#b4b1b1"/><stop offset="0.949" stop-color="#d2977d"/><stop offset="0.975" stop-color="#cc6e54"/><stop offset="1.000" stop-color="#b7493a"/></linearGradient><linearGradient id="g37" gradientUnits="userSpaceOnUse" x1="275.4" y1="134.4" x2="415.5" y2="74.6"><stop offset="0.000" stop-color="#a7362d"/><stop offset="0.068" stop-color="#ad4134"/><stop offset="0.133" stop-color="#b34b3c"/><stop offset="0.194" stop-color="#bf5f4a"/><stop offset="0.252" stop-color="#c8755b"/><stop offset="0.307" stop-color="#c99279"/><stop offset="0.360" stop-color="#b3a7a1"/><stop offset="0.409" stop-color="#8f97b7"/><stop offset="0.457" stop-color="#6e7bb3"/><stop offset="0.503" stop-color="#5562ac"/><stop offset="0.546" stop-color="#4653a7"/><stop offset="0.588" stop-color="#3a47a3"/><stop offset="0.627" stop-color="#3641a0"/><stop offset="0.666" stop-color="#333c9d"/><stop offset="0.702" stop-color="#2f369a"/><stop offset="0.737" stop-color="#2f369a"/><stop offset="0.771" stop-color="#313a9c"/><stop offset="0.804" stop-color="#35409f"/><stop offset="0.835" stop-color="#404da4"/><stop offset="0.865" stop-color="#525faa"/><stop offset="0.894" stop-color="#7784b5"/><stop offset="0.922" stop-color="#aba7a7"/><stop offset="0.949" stop-color="#c88f76"/><stop offset="0.975" stop-color="#c2674e"/><stop offset="1.000" stop-color="#ae4436"/></linearGradient><linearGradient id="g38" gradientUnits="userSpaceOnUse" x1="274.5" y1="131.9" x2="414.8" y2="73.2"><stop offset="0.000" stop-color="#9d3129"/><stop offset="0.068" stop-color="#a33c2f"/><stop offset="0.133" stop-color="#a94637"/><stop offset="0.194" stop-color="#b45844"/><stop offset="0.252" stop-color="#bc6d54"/><stop offset="0.307" stop-color="#be8871"/><stop offset="0.359" stop-color="#a99d97"/><stop offset="0.409" stop-color="#868eac"/><stop offset="0.457" stop-color="#6773a9"/><stop offset="0.502" stop-color="#4f5ba2"/><stop offset="0.546" stop-color="#414d9d"/><stop offset="0.587" stop-color="#354199"/><stop offset="0.627" stop-color="#323c96"/><stop offset="0.665" stop-color="#2e3794"/><stop offset="0.702" stop-color="#2b3191"/><stop offset="0.737" stop-color="#2b3291"/><stop offset="0.771" stop-color="#2d3693"/><stop offset="0.803" stop-color="#313b96"/><stop offset="0.835" stop-color="#3b489b"/><stop offset="0.865" stop-color="#4c59a1"/><stop offset="0.894" stop-color="#707dab"/><stop offset="0.922" stop-color="#a29e9e"/><stop offset="0.949" stop-color="#bd876f"/><stop offset="0.975" stop-color="#b86149"/><stop offset="1.000" stop-color="#a53f32"/></linearGradient><linearGradient id="g39" gradientUnits="userSpaceOnUse" x1="273.8" y1="129.4" x2="414.1" y2="71.9"><stop offset="0.000" stop-color="#942d25"/><stop offset="0.068" stop-color="#99372b"/><stop offset="0.133" stop-color="#9f4132"/><stop offset="0.194" stop-color="#aa523f"/><stop offset="0.252" stop-color="#b2664f"/><stop offset="0.307" stop-color="#b3806a"/><stop offset="0.359" stop-color="#9f948e"/><stop offset="0.409" stop-color="#7e86a3"/><stop offset="0.457" stop-color="#606c9f"/><stop offset="0.502" stop-color="#495599"/><stop offset="0.545" stop-color="#3c4894"/><stop offset="0.587" stop-color="#313d90"/><stop offset="0.627" stop-color="#2e388e"/><stop offset="0.665" stop-color="#2a338b"/><stop offset="0.702" stop-color="#272e89"/><stop offset="0.737" stop-color="#272e89"/><stop offset="0.771" stop-color="#2a328b"/><stop offset="0.803" stop-color="#2d378e"/><stop offset="0.834" stop-color="#374393"/><stop offset="0.865" stop-color="#485498"/><stop offset="0.894" stop-color="#6a76a2"/><stop offset="0.922" stop-color="#999696"/><stop offset="0.949" stop-color="#b48069"/><stop offset="0.975" stop-color="#af5c45"/><stop offset="1.000" stop-color="#9c3b2e"/></linearGradient><linearGradient id="g40" gradientUnits="userSpaceOnUse" x1="273.1" y1="126.9" x2="413.5" y2="70.4"><stop offset="0.000" stop-color="#8c2a23"/><stop offset="0.068" stop-color="#913428"/><stop offset="0.132" stop-color="#963d2f"/><stop offset="0.193" stop-color="#a14d3b"/><stop offset="0.251" stop-color="#a8604a"/><stop offset="0.306" stop-color="#a97963"/><stop offset="0.359" stop-color="#968c86"/><stop offset="0.409" stop-color="#777e9a"/><stop offset="0.456" stop-color="#5a6696"/><stop offset="0.502" stop-color="#455090"/><stop offset="0.545" stop-color="#38438c"/><stop offset="0.587" stop-color="#2e3988"/><stop offset="0.627" stop-color="#2a3486"/><stop offset="0.665" stop-color="#272f84"/><stop offset="0.702" stop-color="#242a81"/><stop offset="0.737" stop-color="#242b81"/><stop offset="0.770" stop-color="#272e83"/><stop offset="0.803" stop-color="#2a3386"/><stop offset="0.834" stop-color="#343f8b"/><stop offset="0.864" stop-color="#434f90"/><stop offset="0.894" stop-color="#646f99"/><stop offset="0.922" stop-color="#918e8e"/><stop offset="0.949" stop-color="#aa7963"/><stop offset="0.975" stop-color="#a55641"/><stop offset="1.000" stop-color="#94382b"/></linearGradient><linearGradient id="g41" gradientUnits="userSpaceOnUse" x1="272.5" y1="124.4" x2="413.0" y2="69.0"><stop offset="0.000" stop-color="#842720"/><stop offset="0.068" stop-color="#893126"/><stop offset="0.132" stop-color="#8e392c"/><stop offset="0.193" stop-color="#984938"/><stop offset="0.251" stop-color="#9f5b46"/><stop offset="0.306" stop-color="#a0725e"/><stop offset="0.359" stop-color="#8e847f"/><stop offset="0.409" stop-color="#707791"/><stop offset="0.456" stop-color="#55608e"/><stop offset="0.502" stop-color="#414b88"/><stop offset="0.545" stop-color="#343f84"/><stop offset="0.587" stop-color="#2b3581"/><stop offset="0.626" stop-color="#28317e"/><stop offset="0.665" stop-color="#252c7c"/><stop offset="0.701" stop-color="#22287a"/><stop offset="0.737" stop-color="#22287a"/><stop offset="0.770" stop-color="#242b7c"/><stop offset="0.803" stop-color="#27307e"/><stop offset="0.834" stop-color="#303b83"/><stop offset="0.864" stop-color="#3f4a88"/><stop offset="0.893" stop-color="#5e6990"/><stop offset="0.922" stop-color="#898686"/><stop offset="0.949" stop-color="#a1725d"/><stop offset="0.975" stop-color="#9c513d"/><stop offset="1.000" stop-color="#8b3429"/></linearGradient><linearGradient id="g42" gradientUnits="userSpaceOnUse" x1="271.9" y1="121.8" x2="412.5" y2="67.5"><stop offset="0.000" stop-color="#7d251e"/><stop offset="0.068" stop-color="#812e24"/><stop offset="0.132" stop-color="#86362a"/><stop offset="0.193" stop-color="#8f4534"/><stop offset="0.251" stop-color="#965642"/><stop offset="0.306" stop-color="#976c58"/><stop offset="0.358" stop-color="#867c77"/><stop offset="0.408" stop-color="#6a7089"/><stop offset="0.456" stop-color="#505a86"/><stop offset="0.501" stop-color="#3d4780"/><stop offset="0.545" stop-color="#313b7d"/><stop offset="0.586" stop-color="#283279"/><stop offset="0.626" stop-color="#252e77"/><stop offset="0.665" stop-color="#222975"/><stop offset="0.701" stop-color="#202573"/><stop offset="0.736" stop-color="#202573"/><stop offset="0.770" stop-color="#222975"/><stop offset="0.803" stop-color="#252d77"/><stop offset="0.834" stop-color="#2e387b"/><stop offset="0.864" stop-color="#3b4680"/><stop offset="0.893" stop-color="#596388"/><stop offset="0.921" stop-color="#817e7e"/><stop offset="0.949" stop-color="#976c58"/><stop offset="0.975" stop-color="#934d39"/><stop offset="1.000" stop-color="#833126"/></linearGradient><linearGradient id="g43" gradientUnits="userSpaceOnUse" x1="271.4" y1="119.3" x2="412.1" y2="66.1"><stop offset="0.000" stop-color="#75231d"/><stop offset="0.068" stop-color="#7a2b22"/><stop offset="0.132" stop-color="#7e3227"/><stop offset="0.193" stop-color="#874131"/><stop offset="0.251" stop-color="#8d513e"/><stop offset="0.306" stop-color="#8e6553"/><stop offset="0.358" stop-color="#7e7570"/><stop offset="0.408" stop-color="#636a81"/><stop offset="0.456" stop-color="#4b557e"/><stop offset="0.501" stop-color="#394379"/><stop offset="0.545" stop-color="#2e3875"/><stop offset="0.586" stop-color="#262f72"/><stop offset="0.626" stop-color="#232b70"/><stop offset="0.664" stop-color="#20276e"/><stop offset="0.701" stop-color="#1e236c"/><stop offset="0.736" stop-color="#1e236c"/><stop offset="0.770" stop-color="#20266e"/><stop offset="0.803" stop-color="#232b70"/><stop offset="0.834" stop-color="#2b3474"/><stop offset="0.864" stop-color="#384178"/><stop offset="0.893" stop-color="#535d80"/><stop offset="0.921" stop-color="#797777"/><stop offset="0.949" stop-color="#8e6553"/><stop offset="0.975" stop-color="#8a4836"/><stop offset="1.000" stop-color="#7b2e24"/></linearGradient><linearGradient id="g44" gradientUnits="userSpaceOnUse" x1="271.0" y1="116.7" x2="411.8" y2="64.6"><stop offset="0.000" stop-color="#6e211b"/><stop offset="0.068" stop-color="#72281f"/><stop offset="0.132" stop-color="#762f24"/><stop offset="0.193" stop-color="#7e3c2e"/><stop offset="0.251" stop-color="#844b3a"/><stop offset="0.306" stop-color="#855f4e"/><stop offset="0.358" stop-color="#766d69"/><stop offset="0.408" stop-color="#5d6378"/><stop offset="0.456" stop-color="#474f76"/><stop offset="0.501" stop-color="#353e71"/><stop offset="0.545" stop-color="#2b346e"/><stop offset="0.586" stop-color="#232c6b"/><stop offset="0.626" stop-color="#212869"/><stop offset="0.664" stop-color="#1e2467"/><stop offset="0.701" stop-color="#1c2165"/><stop offset="0.736" stop-color="#1c2165"/><stop offset="0.770" stop-color="#1e2466"/><stop offset="0.803" stop-color="#202869"/><stop offset="0.834" stop-color="#28316c"/><stop offset="0.864" stop-color="#343d70"/><stop offset="0.893" stop-color="#4e5778"/><stop offset="0.921" stop-color="#716f6f"/><stop offset="0.949" stop-color="#855e4d"/><stop offset="0.975" stop-color="#814332"/><stop offset="1.000" stop-color="#742b21"/></linearGradient><linearGradient id="g45" gradientUnits="userSpaceOnUse" x1="270.7" y1="114.2" x2="411.5" y2="63.1"><stop offset="0.000" stop-color="#661e19"/><stop offset="0.068" stop-color="#6a261d"/><stop offset="0.132" stop-color="#6e2c22"/><stop offset="0.193" stop-color="#75382b"/><stop offset="0.251" stop-color="#7b4636"/><stop offset="0.306" stop-color="#7c5848"/><stop offset="0.358" stop-color="#6e6662"/><stop offset="0.408" stop-color="#575c70"/><stop offset="0.456" stop-color="#424a6e"/><stop offset="0.501" stop-color="#323a69"/><stop offset="0.545" stop-color="#283166"/><stop offset="0.586" stop-color="#212963"/><stop offset="0.626" stop-color="#1e2561"/><stop offset="0.664" stop-color="#1c2260"/><stop offset="0.701" stop-color="#1a1e5e"/><stop offset="0.736" stop-color="#1a1f5e"/><stop offset="0.770" stop-color="#1c215f"/><stop offset="0.803" stop-color="#1e2561"/><stop offset="0.834" stop-color="#252d65"/><stop offset="0.864" stop-color="#313969"/><stop offset="0.893" stop-color="#48516f"/><stop offset="0.921" stop-color="#696767"/><stop offset="0.949" stop-color="#7c5848"/><stop offset="0.975" stop-color="#783f2f"/><stop offset="1.000" stop-color="#6b281f"/></linearGradient><linearGradient id="g46" gradientUnits="userSpaceOnUse" x1="270.4" y1="111.7" x2="411.4" y2="61.6"><stop offset="0.000" stop-color="#5f1c17"/><stop offset="0.068" stop-color="#62231b"/><stop offset="0.132" stop-color="#66291f"/><stop offset="0.193" stop-color="#6c3428"/><stop offset="0.251" stop-color="#714132"/><stop offset="0.306" stop-color="#725243"/><stop offset="0.358" stop-color="#655e5a"/><stop offset="0.408" stop-color="#505568"/><stop offset="0.456" stop-color="#3d4465"/><stop offset="0.501" stop-color="#2e3661"/><stop offset="0.545" stop-color="#252d5e"/><stop offset="0.586" stop-color="#1e265c"/><stop offset="0.626" stop-color="#1c235a"/><stop offset="0.664" stop-color="#1a1f59"/><stop offset="0.701" stop-color="#181c57"/><stop offset="0.736" stop-color="#181c57"/><stop offset="0.770" stop-color="#1a1f58"/><stop offset="0.803" stop-color="#1c225a"/><stop offset="0.834" stop-color="#222a5d"/><stop offset="0.864" stop-color="#2d3561"/><stop offset="0.893" stop-color="#434b67"/><stop offset="0.921" stop-color="#615f5f"/><stop offset="0.948" stop-color="#735142"/><stop offset="0.975" stop-color="#6f3a2b"/><stop offset="1.000" stop-color="#63251d"/></linearGradient><linearGradient id="g47" gradientUnits="userSpaceOnUse" x1="270.2" y1="109.2" x2="411.3" y2="60.1"><stop offset="0.000" stop-color="#591a16"/><stop offset="0.068" stop-color="#5c2119"/><stop offset="0.132" stop-color="#5f261d"/><stop offset="0.193" stop-color="#663125"/><stop offset="0.251" stop-color="#6a3d2f"/><stop offset="0.306" stop-color="#6b4d3f"/><stop offset="0.358" stop-color="#5f5855"/><stop offset="0.408" stop-color="#4b5061"/><stop offset="0.456" stop-color="#39405f"/><stop offset="0.501" stop-color="#2b325b"/><stop offset="0.545" stop-color="#232a58"/><stop offset="0.586" stop-color="#1c2356"/><stop offset="0.626" stop-color="#1a2055"/><stop offset="0.664" stop-color="#181d53"/><stop offset="0.701" stop-color="#161a52"/><stop offset="0.736" stop-color="#161b52"/><stop offset="0.770" stop-color="#181d53"/><stop offset="0.803" stop-color="#1a2054"/><stop offset="0.834" stop-color="#202758"/><stop offset="0.864" stop-color="#2a315b"/><stop offset="0.893" stop-color="#3f4661"/><stop offset="0.921" stop-color="#5b5a5a"/><stop offset="0.949" stop-color="#6c4c3e"/><stop offset="0.975" stop-color="#693629"/><stop offset="1.000" stop-color="#5d231b"/></linearGradient><linearGradient id="g48" gradientUnits="userSpaceOnUse" x1="270.1" y1="106.8" x2="411.2" y2="58.6"><stop offset="0.000" stop-color="#591a16"/><stop offset="0.068" stop-color="#5c2119"/><stop offset="0.132" stop-color="#5f261d"/><stop offset="0.193" stop-color="#663125"/><stop offset="0.251" stop-color="#6a3d2f"/><stop offset="0.306" stop-color="#6b4d3f"/><stop offset="0.358" stop-color="#5f5855"/><stop offset="0.408" stop-color="#4b5061"/><stop offset="0.456" stop-color="#39405f"/><stop offset="0.501" stop-color="#2b325b"/><stop offset="0.545" stop-color="#232a58"/><stop offset="0.586" stop-color="#1c2356"/><stop offset="0.626" stop-color="#1a2055"/><stop offset="0.664" stop-color="#181d53"/><stop offset="0.701" stop-color="#161a52"/><stop offset="0.736" stop-color="#161b52"/><stop offset="0.770" stop-color="#181d53"/><stop offset="0.803" stop-color="#1a2054"/><stop offset="0.834" stop-color="#202758"/><stop offset="0.864" stop-color="#2a315b"/><stop offset="0.893" stop-color="#3f4661"/><stop offset="0.921" stop-color="#5b5a5a"/><stop offset="0.949" stop-color="#6c4c3e"/><stop offset="0.975" stop-color="#693629"/><stop offset="1.000" stop-color="#5d231b"/></linearGradient><linearGradient id="g49" gradientUnits="userSpaceOnUse" x1="270.0" y1="104.4" x2="411.3" y2="57.1"><stop offset="0.000" stop-color="#591a16"/><stop offset="0.068" stop-color="#5c2119"/><stop offset="0.132" stop-color="#5f261d"/><stop offset="0.193" stop-color="#663125"/><stop offset="0.251" stop-color="#6a3d2f"/><stop offset="0.306" stop-color="#6b4d3f"/><stop offset="0.358" stop-color="#5f5855"/><stop offset="0.408" stop-color="#4b5061"/><stop offset="0.456" stop-color="#39405f"/><stop offset="0.501" stop-color="#2b325b"/><stop offset="0.545" stop-color="#232a58"/><stop offset="0.586" stop-color="#1c2356"/><stop offset="0.626" stop-color="#1a2055"/><stop offset="0.664" stop-color="#181d53"/><stop offset="0.701" stop-color="#161a52"/><stop offset="0.736" stop-color="#161b52"/><stop offset="0.770" stop-color="#181d53"/><stop offset="0.803" stop-color="#1a2054"/><stop offset="0.834" stop-color="#202758"/><stop offset="0.864" stop-color="#2a315b"/><stop offset="0.893" stop-color="#3f4661"/><stop offset="0.921" stop-color="#5b5a5a"/><stop offset="0.949" stop-color="#6c4c3e"/><stop offset="0.975" stop-color="#693629"/><stop offset="1.000" stop-color="#5d231b"/></linearGradient><linearGradient id="g50" gradientUnits="userSpaceOnUse" x1="270.0" y1="102.0" x2="411.4" y2="55.7"><stop offset="0.000" stop-color="#591a16"/><stop offset="0.068" stop-color="#5c2119"/><stop offset="0.132" stop-color="#5f261d"/><stop offset="0.193" stop-color="#663125"/><stop offset="0.251" stop-color="#6a3d2f"/><stop offset="0.306" stop-color="#6b4d3f"/><stop offset="0.358" stop-color="#5f5855"/><stop offset="0.408" stop-color="#4b5061"/><stop offset="0.456" stop-color="#39405f"/><stop offset="0.501" stop-color="#2b325b"/><stop offset="0.545" stop-color="#232a58"/><stop offset="0.587" stop-color="#1c2356"/><stop offset="0.626" stop-color="#1a2055"/><stop offset="0.665" stop-color="#181d53"/><stop offset="0.701" stop-color="#161a52"/><stop offset="0.736" stop-color="#161b52"/><stop offset="0.770" stop-color="#181d53"/><stop offset="0.803" stop-color="#1a2054"/><stop offset="0.834" stop-color="#202758"/><stop offset="0.864" stop-color="#2a315b"/><stop offset="0.893" stop-color="#3f4661"/><stop offset="0.921" stop-color="#5b5a5a"/><stop offset="0.949" stop-color="#6c4c3e"/><stop offset="0.975" stop-color="#693629"/><stop offset="1.000" stop-color="#5d231b"/></linearGradient><linearGradient id="g51" gradientUnits="userSpaceOnUse" x1="270.1" y1="99.7" x2="411.6" y2="54.3"><stop offset="0.000" stop-color="#591a16"/><stop offset="0.068" stop-color="#5c2119"/><stop offset="0.132" stop-color="#5f261d"/><stop offset="0.193" stop-color="#663125"/><stop offset="0.251" stop-color="#6a3d2f"/><stop offset="0.306" stop-color="#6b4d3f"/><stop offset="0.359" stop-color="#5f5855"/><stop offset="0.409" stop-color="#4b5061"/><stop offset="0.456" stop-color="#39405f"/><stop offset="0.502" stop-color="#2b325b"/><stop offset="0.545" stop-color="#232a58"/><stop offset="0.587" stop-color="#1c2356"/><stop offset="0.627" stop-color="#1a2055"/><stop offset="0.665" stop-color="#181d53"/><stop offset="0.701" stop-color="#161a52"/><stop offset="0.737" stop-color="#161b52"/><stop offset="0.770" stop-color="#181d53"/><stop offset="0.803" stop-color="#1a2054"/><stop offset="0.834" stop-color="#202758"/><stop offset="0.864" stop-color="#2a315b"/><stop offset="0.893" stop-color="#3f4661"/><stop offset="0.922" stop-color="#5b5a5a"/><stop offset="0.949" stop-color="#6c4c3e"/><stop offset="0.975" stop-color="#693629"/><stop offset="1.000" stop-color="#5d231b"/></linearGradient><linearGradient id="g52" gradientUnits="userSpaceOnUse" x1="270.3" y1="97.5" x2="411.9" y2="52.9"><stop offset="0.000" stop-color="#591a16"/><stop offset="0.068" stop-color="#5c2119"/><stop offset="0.132" stop-color="#5f261d"/><stop offset="0.193" stop-color="#663125"/><stop offset="0.251" stop-color="#6a3d2f"/><stop offset="0.306" stop-color="#6b4d3f"/><stop offset="0.359" stop-color="#5f5855"/><stop offset="0.409" stop-color="#4b5061"/><stop offset="0.456" stop-color="#39405f"/><stop offset="0.502" stop-color="#2b325b"/><stop offset="0.545" stop-color="#232a58"/><stop offset="0.587" stop-color="#1c2356"/><stop offset="0.627" stop-color="#1a2055"/><stop offset="0.665" stop-color="#181d53"/><stop offset="0.702" stop-color="#161a52"/><stop offset="0.737" stop-color="#161b52"/><stop offset="0.771" stop-color="#181d53"/><stop offset="0.803" stop-color="#1a2054"/><stop offset="0.834" stop-color="#202758"/><stop offset="0.865" stop-color="#2a315b"/><stop offset="0.894" stop-color="#3f4661"/><stop offset="0.922" stop-color="#5b5a5a"/><stop offset="0.949" stop-color="#6c4c3e"/><stop offset="0.975" stop-color="#693629"/><stop offset="1.000" stop-color="#5d231b"/></linearGradient><linearGradient id="g53" gradientUnits="userSpaceOnUse" x1="270.5" y1="95.3" x2="412.2" y2="51.5"><stop offset="0.000" stop-color="#591a16"/><stop offset="0.068" stop-color="#5c2119"/><stop offset="0.133" stop-color="#5f261d"/><stop offset="0.194" stop-color="#663125"/><stop offset="0.252" stop-color="#6a3d2f"/><stop offset="0.307" stop-color="#6b4d3f"/><stop offset="0.359" stop-color="#5f5855"/><stop offset="0.409" stop-color="#4b5061"/><stop offset="0.457" stop-color="#39405f"/><stop offset="0.502" stop-color="#2b325b"/><stop offset="0.546" stop-color="#232a58"/><stop offset="0.587" stop-color="#1c2356"/><stop offset="0.627" stop-color="#1a2055"/><stop offset="0.665" stop-color="#181d53"/><stop offset="0.702" stop-color="#161a52"/><stop offset="0.737" stop-color="#161b52"/><stop offset="0.771" stop-color="#181d53"/><stop offset="0.803" stop-color="#1a2054"/><stop offset="0.834" stop-color="#202758"/><stop offset="0.865" stop-color="#2a315b"/><stop offset="0.894" stop-color="#3f4661"/><stop offset="0.922" stop-color="#5b5a5a"/><stop offset="0.949" stop-color="#6c4c3e"/><stop offset="0.975" stop-color="#693629"/><stop offset="1.000" stop-color="#5d231b"/></linearGradient><linearGradient id="g54" gradientUnits="userSpaceOnUse" x1="270.9" y1="93.3" x2="412.7" y2="50.2"><stop offset="0.000" stop-color="#591a16"/><stop offset="0.068" stop-color="#5c2119"/><stop offset="0.133" stop-color="#5f261d"/><stop offset="0.194" stop-color="#663125"/><stop offset="0.252" stop-color="#6a3d2f"/><stop offset="0.307" stop-color="#6b4d3f"/><stop offset="0.359" stop-color="#5f5855"/><stop offset="0.409" stop-color="#4b5061"/><stop offset="0.457" stop-color="#39405f"/><stop offset="0.502" stop-color="#2b325b"/><stop offset="0.546" stop-color="#232a58"/><stop offset="0.587" stop-color="#1c2356"/><stop offset="0.627" stop-color="#1a2055"/><stop offset="0.665" stop-color="#181d53"/><stop offset="0.702" stop-color="#161a52"/><stop offset="0.737" stop-color="#161b52"/><stop offset="0.771" stop-color="#181d53"/><stop offset="0.803" stop-color="#1a2054"/><stop offset="0.835" stop-color="#202758"/><stop offset="0.865" stop-color="#2a315b"/><stop offset="0.894" stop-color="#3f4661"/><stop offset="0.922" stop-color="#5b5a5a"/><stop offset="0.949" stop-color="#6c4c3e"/><stop offset="0.975" stop-color="#693629"/><stop offset="1.000" stop-color="#5d231b"/></linearGradient><linearGradient id="g55" gradientUnits="userSpaceOnUse" x1="271.3" y1="91.3" x2="413.2" y2="49.0"><stop offset="0.000" stop-color="#591a16"/><stop offset="0.068" stop-color="#5c2119"/><stop offset="0.133" stop-color="#5f261d"/><stop offset="0.194" stop-color="#663125"/><stop offset="0.252" stop-color="#6a3d2f"/><stop offset="0.307" stop-color="#6b4d3f"/><stop offset="0.360" stop-color="#5f5855"/><stop offset="0.410" stop-color="#4b5061"/><stop offset="0.457" stop-color="#39405f"/><stop offset="0.503" stop-color="#2b325b"/><stop offset="0.546" stop-color="#232a58"/><stop offset="0.588" stop-color="#1c2356"/><stop offset="0.628" stop-color="#1a2055"/><stop offset="0.666" stop-color="#181d53"/><stop offset="0.702" stop-color="#161a52"/><stop offset="0.737" stop-color="#161b52"/><stop offset="0.771" stop-color="#181d53"/><stop offset="0.804" stop-color="#1a2054"/><stop offset="0.835" stop-color="#202758"/><stop offset="0.865" stop-color="#2a315b"/><stop offset="0.894" stop-color="#3f4661"/><stop offset="0.922" stop-color="#5b5a5a"/><stop offset="0.949" stop-color="#6c4c3e"/><stop offset="0.975" stop-color="#693629"/><stop offset="1.000" stop-color="#5d231b"/></linearGradient><linearGradient id="g56" gradientUnits="userSpaceOnUse" x1="271.7" y1="89.4" x2="413.7" y2="47.8"><stop offset="0.000" stop-color="#591a16"/><stop offset="0.068" stop-color="#5c2119"/><stop offset="0.133" stop-color="#5f261d"/><stop offset="0.194" stop-color="#663125"/><stop offset="0.252" stop-color="#6a3d2f"/><stop offset="0.307" stop-color="#6b4d3f"/><stop offset="0.360" stop-color="#5f5855"/><stop offset="0.410" stop-color="#4b5061"/><stop offset="0.458" stop-color="#39405f"/><stop offset="0.503" stop-color="#2b325b"/><stop offset="0.547" stop-color="#232a58"/><stop offset="0.588" stop-color="#1c2356"/><stop offset="0.628" stop-color="#1a2055"/><stop offset="0.666" stop-color="#181d53"/><stop offset="0.703" stop-color="#161a52"/><stop offset="0.738" stop-color="#161b52"/><stop offset="0.771" stop-color="#181d53"/><stop offset="0.804" stop-color="#1a2054"/><stop offset="0.835" stop-color="#202758"/><stop offset="0.865" stop-color="#2a315b"/><stop offset="0.894" stop-color="#3f4661"/><stop offset="0.922" stop-color="#5b5a5a"/><stop offset="0.949" stop-color="#6c4c3e"/><stop offset="0.975" stop-color="#693629"/><stop offset="1.000" stop-color="#5d231b"/></linearGradient><linearGradient id="g57" gradientUnits="userSpaceOnUse" x1="272.3" y1="87.6" x2="414.4" y2="46.6"><stop offset="0.000" stop-color="#591a16"/><stop offset="0.068" stop-color="#5c2119"/><stop offset="0.133" stop-color="#5f261d"/><stop offset="0.194" stop-color="#663125"/><stop offset="0.253" stop-color="#6a3d2f"/><stop offset="0.308" stop-color="#6b4d3f"/><stop offset="0.360" stop-color="#5f5855"/><stop offset="0.410" stop-color="#4b5061"/><stop offset="0.458" stop-color="#39405f"/><stop offset="0.503" stop-color="#2b325b"/><stop offset="0.547" stop-color="#232a58"/><stop offset="0.588" stop-color="#1c2356"/><stop offset="0.628" stop-color="#1a2055"/><stop offset="0.666" stop-color="#181d53"/><stop offset="0.703" stop-color="#161a52"/><stop offset="0.738" stop-color="#161b52"/><stop offset="0.772" stop-color="#181d53"/><stop offset="0.804" stop-color="#1a2054"/><stop offset="0.835" stop-color="#202758"/><stop offset="0.865" stop-color="#2a315b"/><stop offset="0.894" stop-color="#3f4661"/><stop offset="0.922" stop-color="#5b5a5a"/><stop offset="0.949" stop-color="#6c4c3e"/><stop offset="0.975" stop-color="#693629"/><stop offset="1.000" stop-color="#5d231b"/></linearGradient><linearGradient id="g58" gradientUnits="userSpaceOnUse" x1="272.9" y1="85.9" x2="415.1" y2="45.5"><stop offset="0.000" stop-color="#591a16"/><stop offset="0.069" stop-color="#5c2119"/><stop offset="0.133" stop-color="#5f261d"/><stop offset="0.195" stop-color="#663125"/><stop offset="0.253" stop-color="#6a3d2f"/><stop offset="0.308" stop-color="#6b4d3f"/><stop offset="0.361" stop-color="#5f5855"/><stop offset="0.411" stop-color="#4b5061"/><stop offset="0.458" stop-color="#39405f"/><stop offset="0.504" stop-color="#2b325b"/><stop offset="0.547" stop-color="#232a58"/><stop offset="0.589" stop-color="#1c2356"/><stop offset="0.629" stop-color="#1a2055"/><stop offset="0.667" stop-color="#181d53"/><stop offset="0.703" stop-color="#161a52"/><stop offset="0.738" stop-color="#161b52"/><stop offset="0.772" stop-color="#181d53"/><stop offset="0.804" stop-color="#1a2054"/><stop offset="0.835" stop-color="#202758"/><stop offset="0.865" stop-color="#2a315b"/><stop offset="0.894" stop-color="#3f4661"/><stop offset="0.922" stop-color="#5b5a5a"/><stop offset="0.949" stop-color="#6c4c3e"/><stop offset="0.975" stop-color="#693629"/><stop offset="1.000" stop-color="#5d231b"/></linearGradient><linearGradient id="g59" gradientUnits="userSpaceOnUse" x1="273.6" y1="84.4" x2="415.9" y2="44.5"><stop offset="0.000" stop-color="#591a16"/><stop offset="0.069" stop-color="#5c2119"/><stop offset="0.134" stop-color="#5f261d"/><stop offset="0.195" stop-color="#663125"/><stop offset="0.253" stop-color="#6a3d2f"/><stop offset="0.309" stop-color="#6b4d3f"/><stop offset="0.361" stop-color="#5f5855"/><stop offset="0.411" stop-color="#4b5061"/><stop offset="0.459" stop-color="#39405f"/><stop offset="0.504" stop-color="#2b325b"/><stop offset="0.548" stop-color="#232a58"/><stop offset="0.589" stop-color="#1c2356"/><stop offset="0.629" stop-color="#1a2055"/><stop offset="0.667" stop-color="#181d53"/><stop offset="0.704" stop-color="#161a52"/><stop offset="0.739" stop-color="#161b52"/><stop offset="0.772" stop-color="#181d53"/><stop offset="0.805" stop-color="#1a2054"/><stop offset="0.836" stop-color="#202758"/><stop offset="0.866" stop-color="#2a315b"/><stop offset="0.894" stop-color="#3f4661"/><stop offset="0.922" stop-color="#5b5a5a"/><stop offset="0.949" stop-color="#6c4c3e"/><stop offset="0.975" stop-color="#693629"/><stop offset="1.000" stop-color="#5d231b"/></linearGradient><linearGradient id="g60" gradientUnits="userSpaceOnUse" x1="274.3" y1="83.0" x2="416.7" y2="43.6"><stop offset="0.000" stop-color="#591a16"/><stop offset="0.069" stop-color="#5c2119"/><stop offset="0.134" stop-color="#5f261d"/><stop offset="0.195" stop-color="#663125"/><stop offset="0.254" stop-color="#6a3d2f"/><stop offset="0.309" stop-color="#6b4d3f"/><stop offset="0.362" stop-color="#5f5855"/><stop offset="0.412" stop-color="#4b5061"/><stop offset="0.459" stop-color="#39405f"/><stop offset="0.505" stop-color="#2b325b"/><stop offset="0.548" stop-color="#232a58"/><stop offset="0.590" stop-color="#1c2356"/><stop offset="0.629" stop-color="#1a2055"/><stop offset="0.668" stop-color="#181d53"/><stop offset="0.704" stop-color="#161a52"/><stop offset="0.739" stop-color="#161b52"/><stop offset="0.773" stop-color="#181d53"/><stop offset="0.805" stop-color="#1a2054"/><stop offset="0.836" stop-color="#202758"/><stop offset="0.866" stop-color="#2a315b"/><stop offset="0.895" stop-color="#3f4661"/><stop offset="0.922" stop-color="#5b5a5a"/><stop offset="0.949" stop-color="#6c4c3e"/><stop offset="0.975" stop-color="#693629"/><stop offset="1.000" stop-color="#5d231b"/></linearGradient><linearGradient id="g61" gradientUnits="userSpaceOnUse" x1="275.1" y1="81.7" x2="417.6" y2="42.7"><stop offset="0.000" stop-color="#591a16"/><stop offset="0.069" stop-color="#5c2119"/><stop offset="0.134" stop-color="#5f261d"/><stop offset="0.196" stop-color="#663125"/><stop offset="0.254" stop-color="#6a3d2f"/><stop offset="0.309" stop-color="#6b4d3f"/><stop offset="0.362" stop-color="#5f5855"/><stop offset="0.412" stop-color="#4b5061"/><stop offset="0.460" stop-color="#39405f"/><stop offset="0.505" stop-color="#2b325b"/><stop offset="0.549" stop-color="#232a58"/><stop offset="0.590" stop-color="#1c2356"/><stop offset="0.630" stop-color="#1a2055"/><stop offset="0.668" stop-color="#181d53"/><stop offset="0.704" stop-color="#161a52"/><stop offset="0.739" stop-color="#161b52"/><stop offset="0.773" stop-color="#181d53"/><stop offset="0.805" stop-color="#1a2054"/><stop offset="0.836" stop-color="#202758"/><stop offset="0.866" stop-color="#2a315b"/><stop offset="0.895" stop-color="#3f4661"/><stop offset="0.923" stop-color="#5b5a5a"/><stop offset="0.949" stop-color="#6c4c3e"/><stop offset="0.975" stop-color="#693629"/><stop offset="1.000" stop-color="#5d231b"/></linearGradient><linearGradient id="g62" gradientUnits="userSpaceOnUse" x1="276.0" y1="80.5" x2="418.5" y2="41.9"><stop offset="0.000" stop-color="#591a16"/><stop offset="0.069" stop-color="#5c2119"/><stop offset="0.134" stop-color="#5f261d"/><stop offset="0.196" stop-color="#663125"/><stop offset="0.254" stop-color="#6a3d2f"/><stop offset="0.310" stop-color="#6b4d3f"/><stop offset="0.363" stop-color="#5f5855"/><stop offset="0.413" stop-color="#4b5061"/><stop offset="0.460" stop-color="#39405f"/><stop offset="0.506" stop-color="#2b325b"/><stop offset="0.549" stop-color="#232a58"/><stop offset="0.591" stop-color="#1c2356"/><stop offset="0.630" stop-color="#1a2055"/><stop offset="0.668" stop-color="#181d53"/><stop offset="0.705" stop-color="#161a52"/><stop offset="0.740" stop-color="#161b52"/><stop offset="0.773" stop-color="#181d53"/><stop offset="0.806" stop-color="#1a2054"/><stop offset="0.837" stop-color="#202758"/><stop offset="0.866" stop-color="#2a315b"/><stop offset="0.895" stop-color="#3f4661"/><stop offset="0.923" stop-color="#5b5a5a"/><stop offset="0.949" stop-color="#6c4c3e"/><stop offset="0.975" stop-color="#693629"/><stop offset="1.000" stop-color="#5d231b"/></linearGradient><linearGradient id="g63" gradientUnits="userSpaceOnUse" x1="277.0" y1="79.5" x2="419.5" y2="41.2"><stop offset="0.000" stop-color="#591a16"/><stop offset="0.069" stop-color="#5c2119"/><stop offset="0.135" stop-color="#5f261d"/><stop offset="0.196" stop-color="#663125"/><stop offset="0.255" stop-color="#6a3d2f"/><stop offset="0.310" stop-color="#6b4d3f"/><stop offset="0.363" stop-color="#5f5855"/><stop offset="0.413" stop-color="#4b5061"/><stop offset="0.461" stop-color="#39405f"/><stop offset="0.506" stop-color="#2b325b"/><stop offset="0.550" stop-color="#232a58"/><stop offset="0.591" stop-color="#1c2356"/><stop offset="0.631" stop-color="#1a2055"/><stop offset="0.669" stop-color="#181d53"/><stop offset="0.705" stop-color="#161a52"/><stop offset="0.740" stop-color="#161b52"/><stop offset="0.774" stop-color="#181d53"/><stop offset="0.806" stop-color="#1a2054"/><stop offset="0.837" stop-color="#202758"/><stop offset="0.867" stop-color="#2a315b"/><stop offset="0.895" stop-color="#3f4661"/><stop offset="0.923" stop-color="#5b5a5a"/><stop offset="0.950" stop-color="#6c4c3e"/><stop offset="0.975" stop-color="#693629"/><stop offset="1.000" stop-color="#5d231b"/></linearGradient><linearGradient id="g64" gradientUnits="userSpaceOnUse" x1="278.0" y1="78.6" x2="420.6" y2="40.6"><stop offset="0.000" stop-color="#591a16"/><stop offset="0.069" stop-color="#5c2119"/><stop offset="0.135" stop-color="#5f261d"/><stop offset="0.197" stop-color="#663125"/><stop offset="0.255" stop-color="#6a3d2f"/><stop offset="0.311" stop-color="#6b4d3f"/><stop offset="0.364" stop-color="#5f5855"/><stop offset="0.414" stop-color="#4b5061"/><stop offset="0.461" stop-color="#39405f"/><stop offset="0.507" stop-color="#2b325b"/><stop offset="0.550" stop-color="#232a58"/><stop offset="0.592" stop-color="#1c2356"/><stop offset="0.632" stop-color="#1a2055"/><stop offset="0.669" stop-color="#181d53"/><stop offset="0.706" stop-color="#161a52"/><stop offset="0.741" stop-color="#161b52"/><stop offset="0.774" stop-color="#181d53"/><stop offset="0.806" stop-color="#1a2054"/><stop offset="0.837" stop-color="#202758"/><stop offset="0.867" stop-color="#2a315b"/><stop offset="0.895" stop-color="#3f4661"/><stop offset="0.923" stop-color="#5b5a5a"/><stop offset="0.950" stop-color="#6c4c3e"/><stop offset="0.975" stop-color="#693629"/><stop offset="1.000" stop-color="#5d231b"/></linearGradient><linearGradient id="g65" gradientUnits="userSpaceOnUse" x1="279.0" y1="77.9" x2="421.7" y2="40.0"><stop offset="0.000" stop-color="#591a16"/><stop offset="0.069" stop-color="#5c2119"/><stop offset="0.135" stop-color="#5f261d"/><stop offset="0.197" stop-color="#663125"/><stop offset="0.256" stop-color="#6a3d2f"/><stop offset="0.311" stop-color="#6b4d3f"/><stop offset="0.364" stop-color="#5f5855"/><stop offset="0.414" stop-color="#4b5061"/><stop offset="0.462" stop-color="#39405f"/><stop offset="0.508" stop-color="#2b325b"/><stop offset="0.551" stop-color="#232a58"/><stop offset="0.592" stop-color="#1c2356"/><stop offset="0.632" stop-color="#1a2055"/><stop offset="0.670" stop-color="#181d53"/><stop offset="0.706" stop-color="#161a52"/><stop offset="0.741" stop-color="#161b52"/><stop offset="0.775" stop-color="#181d53"/><stop offset="0.807" stop-color="#1a2054"/><stop offset="0.837" stop-color="#202758"/><stop offset="0.867" stop-color="#2a315b"/><stop offset="0.896" stop-color="#3f4661"/><stop offset="0.923" stop-color="#5b5a5a"/><stop offset="0.950" stop-color="#6c4c3e"/><stop offset="0.975" stop-color="#693629"/><stop offset="1.000" stop-color="#5d231b"/></linearGradient><linearGradient id="g66" gradientUnits="userSpaceOnUse" x1="280.2" y1="77.4" x2="422.8" y2="39.6"><stop offset="0.000" stop-color="#591a16"/><stop offset="0.070" stop-color="#5c2119"/><stop offset="0.135" stop-color="#5f261d"/><stop offset="0.197" stop-color="#663125"/><stop offset="0.256" stop-color="#6a3d2f"/><stop offset="0.312" stop-color="#6b4d3f"/><stop offset="0.365" stop-color="#5f5855"/><stop offset="0.415" stop-color="#4b5061"/><stop offset="0.463" stop-color="#39405f"/><stop offset="0.508" stop-color="#2b325b"/><stop offset="0.552" stop-color="#232a58"/><stop offset="0.593" stop-color="#1c2356"/><stop offset="0.633" stop-color="#1a2055"/><stop offset="0.671" stop-color="#181d53"/><stop offset="0.707" stop-color="#161a52"/><stop offset="0.742" stop-color="#161b52"/><stop offset="0.775" stop-color="#181d53"/><stop offset="0.807" stop-color="#1a2054"/><stop offset="0.838" stop-color="#202758"/><stop offset="0.867" stop-color="#2a315b"/><stop offset="0.896" stop-color="#3f4661"/><stop offset="0.923" stop-color="#5b5a5a"/><stop offset="0.950" stop-color="#6c4c3e"/><stop offset="0.975" stop-color="#693629"/><stop offset="1.000" stop-color="#5d231b"/></linearGradient><linearGradient id="g67" gradientUnits="userSpaceOnUse" x1="281.3" y1="77.0" x2="424.0" y2="39.3"><stop offset="0.000" stop-color="#ae342a"/><stop offset="0.070" stop-color="#b44032"/><stop offset="0.136" stop-color="#bb4b3a"/><stop offset="0.198" stop-color="#c76049"/><stop offset="0.257" stop-color="#d0775b"/><stop offset="0.312" stop-color="#d2967b"/><stop offset="0.365" stop-color="#baada6"/><stop offset="0.416" stop-color="#939cbe"/><stop offset="0.463" stop-color="#707eba"/><stop offset="0.509" stop-color="#5563b3"/><stop offset="0.552" stop-color="#4553ad"/><stop offset="0.594" stop-color="#3845a9"/><stop offset="0.633" stop-color="#343fa6"/><stop offset="0.671" stop-color="#303aa3"/><stop offset="0.707" stop-color="#2c34a0"/><stop offset="0.742" stop-color="#2c34a0"/><stop offset="0.775" stop-color="#2f38a2"/><stop offset="0.807" stop-color="#333fa5"/><stop offset="0.838" stop-color="#3f4dab"/><stop offset="0.868" stop-color="#5361b2"/><stop offset="0.896" stop-color="#7b89bd"/><stop offset="0.924" stop-color="#b3afaf"/><stop offset="0.950" stop-color="#d2957a"/><stop offset="0.975" stop-color="#cd6a4f"/><stop offset="1.000" stop-color="#b74435"/></linearGradient><linearGradient id="g68" gradientUnits="userSpaceOnUse" x1="282.6" y1="76.8" x2="425.2" y2="39.0"><stop offset="0.000" stop-color="#b1352b"/><stop offset="0.070" stop-color="#b84133"/><stop offset="0.136" stop-color="#be4c3b"/><stop offset="0.198" stop-color="#cb624a"/><stop offset="0.257" stop-color="#d47a5d"/><stop offset="0.313" stop-color="#d6997e"/><stop offset="0.366" stop-color="#beb1a9"/><stop offset="0.416" stop-color="#969fc2"/><stop offset="0.464" stop-color="#7280be"/><stop offset="0.509" stop-color="#5665b6"/><stop offset="0.553" stop-color="#4654b1"/><stop offset="0.594" stop-color="#3947ac"/><stop offset="0.634" stop-color="#3541a9"/><stop offset="0.672" stop-color="#313ba6"/><stop offset="0.708" stop-color="#2d35a3"/><stop offset="0.743" stop-color="#2d35a3"/><stop offset="0.776" stop-color="#303aa5"/><stop offset="0.808" stop-color="#3440a9"/><stop offset="0.839" stop-color="#404faf"/><stop offset="0.868" stop-color="#5463b5"/><stop offset="0.896" stop-color="#7e8cc1"/><stop offset="0.924" stop-color="#b7b3b3"/><stop offset="0.950" stop-color="#d7987d"/><stop offset="0.975" stop-color="#d16c51"/><stop offset="1.000" stop-color="#ba4536"/></linearGradient><linearGradient id="g69" gradientUnits="userSpaceOnUse" x1="283.8" y1="76.8" x2="426.5" y2="38.9"><stop offset="0.000" stop-color="#b4362c"/><stop offset="0.070" stop-color="#bb4234"/><stop offset="0.136" stop-color="#c24d3c"/><stop offset="0.199" stop-color="#cf634c"/><stop offset="0.258" stop-color="#d87c5f"/><stop offset="0.314" stop-color="#da9c80"/><stop offset="0.366" stop-color="#c1b4ac"/><stop offset="0.417" stop-color="#99a2c6"/><stop offset="0.465" stop-color="#7482c2"/><stop offset="0.510" stop-color="#5866b9"/><stop offset="0.554" stop-color="#4756b4"/><stop offset="0.595" stop-color="#3a48af"/><stop offset="0.634" stop-color="#3642ac"/><stop offset="0.672" stop-color="#323ca9"/><stop offset="0.708" stop-color="#2e36a6"/><stop offset="0.743" stop-color="#2e36a6"/><stop offset="0.776" stop-color="#313ba8"/><stop offset="0.808" stop-color="#3541ac"/><stop offset="0.839" stop-color="#4250b2"/><stop offset="0.868" stop-color="#5664b9"/><stop offset="0.897" stop-color="#808ec5"/><stop offset="0.924" stop-color="#bab6b6"/><stop offset="0.950" stop-color="#db9b7f"/><stop offset="0.976" stop-color="#d46e52"/><stop offset="1.000" stop-color="#be4737"/></linearGradient><linearGradient id="g70" gradientUnits="userSpaceOnUse" x1="285.1" y1="77.0" x2="427.7" y2="38.8"><stop offset="0.000" stop-color="#b7362d"/><stop offset="0.070" stop-color="#be4334"/><stop offset="0.137" stop-color="#c54f3d"/><stop offset="0.199" stop-color="#d2654d"/><stop offset="0.258" stop-color="#db7e60"/><stop offset="0.314" stop-color="#dd9e82"/><stop offset="0.367" stop-color="#c4b6af"/><stop offset="0.417" stop-color="#9ba5c9"/><stop offset="0.465" stop-color="#7684c4"/><stop offset="0.511" stop-color="#5968bc"/><stop offset="0.554" stop-color="#4857b7"/><stop offset="0.596" stop-color="#3b49b2"/><stop offset="0.635" stop-color="#3643af"/><stop offset="0.673" stop-color="#323dab"/><stop offset="0.709" stop-color="#2e36a8"/><stop offset="0.744" stop-color="#2e37a8"/><stop offset="0.777" stop-color="#323bab"/><stop offset="0.809" stop-color="#3642ae"/><stop offset="0.839" stop-color="#4351b5"/><stop offset="0.869" stop-color="#5766bb"/><stop offset="0.897" stop-color="#8290c8"/><stop offset="0.924" stop-color="#bdb9b9"/><stop offset="0.950" stop-color="#de9d81"/><stop offset="0.976" stop-color="#d87054"/><stop offset="1.000" stop-color="#c04838"/></linearGradient><linearGradient id="g71" gradientUnits="userSpaceOnUse" x1="286.5" y1="77.3" x2="429.0" y2="38.9"><stop offset="0.000" stop-color="#ba372d"/><stop offset="0.071" stop-color="#c04435"/><stop offset="0.137" stop-color="#c7503e"/><stop offset="0.200" stop-color="#d5664e"/><stop offset="0.259" stop-color="#de7f61"/><stop offset="0.315" stop-color="#e0a083"/><stop offset="0.368" stop-color="#c7b9b1"/><stop offset="0.418" stop-color="#9da7cb"/><stop offset="0.466" stop-color="#7786c7"/><stop offset="0.511" stop-color="#5a69bf"/><stop offset="0.555" stop-color="#4958b9"/><stop offset="0.596" stop-color="#3b4ab4"/><stop offset="0.636" stop-color="#3744b1"/><stop offset="0.673" stop-color="#333dae"/><stop offset="0.710" stop-color="#2f37aa"/><stop offset="0.744" stop-color="#2f37ab"/><stop offset="0.777" stop-color="#323cad"/><stop offset="0.809" stop-color="#3743b0"/><stop offset="0.840" stop-color="#4352b7"/><stop offset="0.869" stop-color="#5867be"/><stop offset="0.897" stop-color="#8392ca"/><stop offset="0.924" stop-color="#bfbbbb"/><stop offset="0.950" stop-color="#e19f82"/><stop offset="0.976" stop-color="#da7155"/><stop offset="1.000" stop-color="#c34938"/></linearGradient><linearGradient id="g72" gradientUnits="userSpaceOnUse" x1="287.8" y1="77.9" x2="430.3" y2="39.0"><stop offset="0.000" stop-color="#bb382e"/><stop offset="0.071" stop-color="#c24536"/><stop offset="0.137" stop-color="#c9503e"/><stop offset="0.200" stop-color="#d7674f"/><stop offset="0.259" stop-color="#e18162"/><stop offset="0.315" stop-color="#e3a285"/><stop offset="0.368" stop-color="#c9bbb3"/><stop offset="0.419" stop-color="#9fa8cd"/><stop offset="0.467" stop-color="#7887c9"/><stop offset="0.512" stop-color="#5b6ac0"/><stop offset="0.556" stop-color="#4a59bb"/><stop offset="0.597" stop-color="#3c4bb6"/><stop offset="0.636" stop-color="#3844b3"/><stop offset="0.674" stop-color="#333eaf"/><stop offset="0.710" stop-color="#2f38ac"/><stop offset="0.745" stop-color="#2f38ac"/><stop offset="0.778" stop-color="#333daf"/><stop offset="0.809" stop-color="#3744b2"/><stop offset="0.840" stop-color="#4453b9"/><stop offset="0.869" stop-color="#5968c0"/><stop offset="0.897" stop-color="#8594cc"/><stop offset="0.925" stop-color="#c1bdbd"/><stop offset="0.951" stop-color="#e3a184"/><stop offset="0.976" stop-color="#dd7355"/><stop offset="1.000" stop-color="#c54939"/></linearGradient><linearGradient id="g73" gradientUnits="userSpaceOnUse" x1="289.2" y1="78.6" x2="431.6" y2="39.3"><stop offset="0.000" stop-color="#bd382e"/><stop offset="0.071" stop-color="#c44536"/><stop offset="0.138" stop-color="#cb513f"/><stop offset="0.200" stop-color="#d9684f"/><stop offset="0.260" stop-color="#e28263"/><stop offset="0.316" stop-color="#e4a386"/><stop offset="0.369" stop-color="#cabcb5"/><stop offset="0.419" stop-color="#a0aacf"/><stop offset="0.467" stop-color="#7989cb"/><stop offset="0.513" stop-color="#5c6bc2"/><stop offset="0.556" stop-color="#4a5abc"/><stop offset="0.598" stop-color="#3c4bb7"/><stop offset="0.637" stop-color="#3845b4"/><stop offset="0.675" stop-color="#343fb1"/><stop offset="0.711" stop-color="#3038ae"/><stop offset="0.745" stop-color="#3038ae"/><stop offset="0.778" stop-color="#333db0"/><stop offset="0.810" stop-color="#3844b4"/><stop offset="0.840" stop-color="#4554ba"/><stop offset="0.870" stop-color="#5a69c1"/><stop offset="0.898" stop-color="#8695ce"/><stop offset="0.925" stop-color="#c3bfbf"/><stop offset="0.951" stop-color="#e5a285"/><stop offset="0.976" stop-color="#de7456"/><stop offset="1.000" stop-color="#c64a39"/></linearGradient><linearGradient id="g74" gradientUnits="userSpaceOnUse" x1="290.6" y1="79.5" x2="433.0" y2="39.7"><stop offset="0.000" stop-color="#be382e"/><stop offset="0.071" stop-color="#c54636"/><stop offset="0.138" stop-color="#cc523f"/><stop offset="0.201" stop-color="#da6950"/><stop offset="0.260" stop-color="#e48264"/><stop offset="0.316" stop-color="#e6a486"/><stop offset="0.370" stop-color="#ccbdb6"/><stop offset="0.420" stop-color="#a1abd0"/><stop offset="0.468" stop-color="#7a89cc"/><stop offset="0.514" stop-color="#5c6cc3"/><stop offset="0.557" stop-color="#4b5abd"/><stop offset="0.598" stop-color="#3d4cb8"/><stop offset="0.638" stop-color="#3845b5"/><stop offset="0.675" stop-color="#343fb2"/><stop offset="0.711" stop-color="#3038af"/><stop offset="0.746" stop-color="#3039af"/><stop offset="0.779" stop-color="#333eb1"/><stop offset="0.810" stop-color="#3845b5"/><stop offset="0.841" stop-color="#4554bb"/><stop offset="0.870" stop-color="#5a6ac2"/><stop offset="0.898" stop-color="#8696cf"/><stop offset="0.925" stop-color="#c4c0c0"/><stop offset="0.951" stop-color="#e6a385"/><stop offset="0.976" stop-color="#e07457"/><stop offset="1.000" stop-color="#c84a3a"/></linearGradient><linearGradient id="g75" gradientUnits="userSpaceOnUse" x1="292.0" y1="80.6" x2="434.3" y2="40.1"><stop offset="0.000" stop-color="#bf392e"/><stop offset="0.071" stop-color="#c54636"/><stop offset="0.138" stop-color="#cd523f"/><stop offset="0.201" stop-color="#db6950"/><stop offset="0.261" stop-color="#e48364"/><stop offset="0.317" stop-color="#e6a487"/><stop offset="0.370" stop-color="#ccbeb6"/><stop offset="0.421" stop-color="#a1abd1"/><stop offset="0.469" stop-color="#7a8acc"/><stop offset="0.514" stop-color="#5d6cc4"/><stop offset="0.558" stop-color="#4b5bbe"/><stop offset="0.599" stop-color="#3d4cb9"/><stop offset="0.638" stop-color="#3946b6"/><stop offset="0.676" stop-color="#343fb2"/><stop offset="0.712" stop-color="#3039af"/><stop offset="0.746" stop-color="#3039af"/><stop offset="0.779" stop-color="#343eb2"/><stop offset="0.811" stop-color="#3845b5"/><stop offset="0.841" stop-color="#4555bc"/><stop offset="0.870" stop-color="#5a6ac3"/><stop offset="0.898" stop-color="#8796d0"/><stop offset="0.925" stop-color="#c4c0c0"/><stop offset="0.951" stop-color="#e7a486"/><stop offset="0.976" stop-color="#e07557"/><stop offset="1.000" stop-color="#c84b3a"/></linearGradient><linearGradient id="g76" gradientUnits="userSpaceOnUse" x1="293.5" y1="81.8" x2="435.6" y2="40.7"><stop offset="0.000" stop-color="#bf392e"/><stop offset="0.071" stop-color="#c54636"/><stop offset="0.139" stop-color="#cd523f"/><stop offset="0.202" stop-color="#db6950"/><stop offset="0.261" stop-color="#e58364"/><stop offset="0.318" stop-color="#e7a587"/><stop offset="0.371" stop-color="#ccbeb6"/><stop offset="0.421" stop-color="#a2abd1"/><stop offset="0.469" stop-color="#7a8acd"/><stop offset="0.515" stop-color="#5d6cc4"/><stop offset="0.558" stop-color="#4b5bbe"/><stop offset="0.599" stop-color="#3d4cb9"/><stop offset="0.639" stop-color="#3946b6"/><stop offset="0.676" stop-color="#343fb3"/><stop offset="0.712" stop-color="#3039af"/><stop offset="0.747" stop-color="#3039af"/><stop offset="0.780" stop-color="#343eb2"/><stop offset="0.811" stop-color="#3845b5"/><stop offset="0.841" stop-color="#4555bc"/><stop offset="0.870" stop-color="#5b6ac3"/><stop offset="0.898" stop-color="#8796d0"/><stop offset="0.925" stop-color="#c4c0c0"/><stop offset="0.951" stop-color="#e7a486"/><stop offset="0.976" stop-color="#e17557"/><stop offset="1.000" stop-color="#c84b3a"/></linearGradient><linearGradient id="g77" gradientUnits="userSpaceOnUse" x1="294.9" y1="83.3" x2="436.8" y2="41.4"><stop offset="0.000" stop-color="#bf392e"/><stop offset="0.072" stop-color="#c54636"/><stop offset="0.139" stop-color="#cd523f"/><stop offset="0.202" stop-color="#da6950"/><stop offset="0.262" stop-color="#e48364"/><stop offset="0.318" stop-color="#e6a487"/><stop offset="0.372" stop-color="#ccbeb6"/><stop offset="0.422" stop-color="#a1abd1"/><stop offset="0.470" stop-color="#7a8acc"/><stop offset="0.515" stop-color="#5d6cc4"/><stop offset="0.559" stop-color="#4b5bbe"/><stop offset="0.600" stop-color="#3d4cb9"/><stop offset="0.639" stop-color="#3946b5"/><stop offset="0.677" stop-color="#343fb2"/><stop offset="0.713" stop-color="#3039af"/><stop offset="0.747" stop-color="#3039af"/><stop offset="0.780" stop-color="#333eb2"/><stop offset="0.812" stop-color="#3845b5"/><stop offset="0.842" stop-color="#4555bc"/><stop offset="0.871" stop-color="#5a6ac3"/><stop offset="0.899" stop-color="#8796cf"/><stop offset="0.925" stop-color="#c4c0c0"/><stop offset="0.951" stop-color="#e7a486"/><stop offset="0.976" stop-color="#e07457"/><stop offset="1.000" stop-color="#c84b3a"/></linearGradient><linearGradient id="g78" gradientUnits="userSpaceOnUse" x1="296.3" y1="84.9" x2="438.1" y2="42.2"><stop offset="0.000" stop-color="#be382e"/><stop offset="0.072" stop-color="#c54636"/><stop offset="0.139" stop-color="#cc513f"/><stop offset="0.203" stop-color="#da6850"/><stop offset="0.262" stop-color="#e38263"/><stop offset="0.319" stop-color="#e5a486"/><stop offset="0.372" stop-color="#cbbdb5"/><stop offset="0.423" stop-color="#a1abd0"/><stop offset="0.471" stop-color="#7a89cc"/><stop offset="0.516" stop-color="#5c6cc3"/><stop offset="0.559" stop-color="#4b5abd"/><stop offset="0.601" stop-color="#3d4cb8"/><stop offset="0.640" stop-color="#3845b5"/><stop offset="0.678" stop-color="#343fb2"/><stop offset="0.713" stop-color="#3038ae"/><stop offset="0.748" stop-color="#3039af"/><stop offset="0.780" stop-color="#333eb1"/><stop offset="0.812" stop-color="#3845b5"/><stop offset="0.842" stop-color="#4554bb"/><stop offset="0.871" stop-color="#5a69c2"/><stop offset="0.899" stop-color="#8696cf"/><stop offset="0.926" stop-color="#c4bfbf"/><stop offset="0.951" stop-color="#e6a385"/><stop offset="0.976" stop-color="#df7457"/><stop offset="1.000" stop-color="#c74a3a"/></linearGradient><linearGradient id="g79" gradientUnits="userSpaceOnUse" x1="297.7" y1="86.7" x2="439.3" y2="43.1"><stop offset="0.000" stop-color="#bd382e"/><stop offset="0.072" stop-color="#c34536"/><stop offset="0.139" stop-color="#cb513f"/><stop offset="0.203" stop-color="#d8684f"/><stop offset="0.263" stop-color="#e28163"/><stop offset="0.319" stop-color="#e4a386"/><stop offset="0.373" stop-color="#cabcb4"/><stop offset="0.423" stop-color="#a0aacf"/><stop offset="0.471" stop-color="#7988ca"/><stop offset="0.517" stop-color="#5c6bc2"/><stop offset="0.560" stop-color="#4a5abc"/><stop offset="0.601" stop-color="#3c4bb7"/><stop offset="0.641" stop-color="#3845b4"/><stop offset="0.678" stop-color="#343eb1"/><stop offset="0.714" stop-color="#3038ad"/><stop offset="0.748" stop-color="#3038ae"/><stop offset="0.781" stop-color="#333db0"/><stop offset="0.812" stop-color="#3844b4"/><stop offset="0.842" stop-color="#4554ba"/><stop offset="0.871" stop-color="#5a69c1"/><stop offset="0.899" stop-color="#8695ce"/><stop offset="0.926" stop-color="#c2bebe"/><stop offset="0.951" stop-color="#e4a285"/><stop offset="0.976" stop-color="#de7356"/><stop offset="1.000" stop-color="#c64a39"/></linearGradient><linearGradient id="g80" gradientUnits="userSpaceOnUse" x1="299.0" y1="88.7" x2="440.5" y2="44.0"><stop offset="0.000" stop-color="#bb382e"/><stop offset="0.072" stop-color="#c24536"/><stop offset="0.140" stop-color="#c9503e"/><stop offset="0.203" stop-color="#d7674f"/><stop offset="0.263" stop-color="#e08062"/><stop offset="0.320" stop-color="#e2a184"/><stop offset="0.373" stop-color="#c9bab3"/><stop offset="0.424" stop-color="#9ea8cd"/><stop offset="0.472" stop-color="#7887c9"/><stop offset="0.517" stop-color="#5b6ac0"/><stop offset="0.561" stop-color="#4a59ba"/><stop offset="0.602" stop-color="#3c4bb5"/><stop offset="0.641" stop-color="#3844b2"/><stop offset="0.679" stop-color="#333eaf"/><stop offset="0.714" stop-color="#2f38ac"/><stop offset="0.749" stop-color="#2f38ac"/><stop offset="0.781" stop-color="#333daf"/><stop offset="0.813" stop-color="#3744b2"/><stop offset="0.843" stop-color="#4453b9"/><stop offset="0.872" stop-color="#5968bf"/><stop offset="0.899" stop-color="#8494cc"/><stop offset="0.926" stop-color="#c1bdbd"/><stop offset="0.952" stop-color="#e3a184"/><stop offset="0.976" stop-color="#dc7255"/><stop offset="1.000" stop-color="#c54939"/></linearGradient><linearGradient id="g81" gradientUnits="userSpaceOnUse" x1="300.4" y1="90.8" x2="441.7" y2="45.1"><stop offset="0.000" stop-color="#b9372d"/><stop offset="0.072" stop-color="#c04435"/><stop offset="0.140" stop-color="#c7503e"/><stop offset="0.204" stop-color="#d4664e"/><stop offset="0.264" stop-color="#de7f61"/><stop offset="0.320" stop-color="#e0a083"/><stop offset="0.374" stop-color="#c6b8b1"/><stop offset="0.424" stop-color="#9da6cb"/><stop offset="0.472" stop-color="#7786c7"/><stop offset="0.518" stop-color="#5a69be"/><stop offset="0.561" stop-color="#4958b9"/><stop offset="0.602" stop-color="#3b4ab4"/><stop offset="0.642" stop-color="#3744b0"/><stop offset="0.679" stop-color="#333dad"/><stop offset="0.715" stop-color="#2f37aa"/><stop offset="0.749" stop-color="#2f37aa"/><stop offset="0.782" stop-color="#323cad"/><stop offset="0.813" stop-color="#3743b0"/><stop offset="0.843" stop-color="#4352b7"/><stop offset="0.872" stop-color="#5867bd"/><stop offset="0.900" stop-color="#8392ca"/><stop offset="0.926" stop-color="#bfbbbb"/><stop offset="0.952" stop-color="#e09f82"/><stop offset="0.976" stop-color="#da7154"/><stop offset="1.000" stop-color="#c34938"/></linearGradient><linearGradient id="g82" gradientUnits="userSpaceOnUse" x1="301.7" y1="93.1" x2="442.8" y2="46.2"><stop offset="0.000" stop-color="#b7372d"/><stop offset="0.072" stop-color="#bd4334"/><stop offset="0.140" stop-color="#c44f3d"/><stop offset="0.204" stop-color="#d2654d"/><stop offset="0.264" stop-color="#db7d60"/><stop offset="0.321" stop-color="#dd9e81"/><stop offset="0.374" stop-color="#c4b6af"/><stop offset="0.425" stop-color="#9ba4c8"/><stop offset="0.473" stop-color="#7584c4"/><stop offset="0.518" stop-color="#5968bc"/><stop offset="0.562" stop-color="#4857b6"/><stop offset="0.603" stop-color="#3a49b1"/><stop offset="0.642" stop-color="#3643ae"/><stop offset="0.680" stop-color="#323dab"/><stop offset="0.715" stop-color="#2e36a8"/><stop offset="0.749" stop-color="#2e37a8"/><stop offset="0.782" stop-color="#313baa"/><stop offset="0.813" stop-color="#3642ae"/><stop offset="0.843" stop-color="#4251b4"/><stop offset="0.872" stop-color="#5766bb"/><stop offset="0.900" stop-color="#8190c7"/><stop offset="0.926" stop-color="#bcb8b8"/><stop offset="0.952" stop-color="#dd9d80"/><stop offset="0.976" stop-color="#d77053"/><stop offset="1.000" stop-color="#c04838"/></linearGradient><linearGradient id="g83" gradientUnits="userSpaceOnUse" x1="302.9" y1="95.5" x2="443.9" y2="47.5"><stop offset="0.000" stop-color="#b4362c"/><stop offset="0.073" stop-color="#bb4234"/><stop offset="0.140" stop-color="#c14d3c"/><stop offset="0.204" stop-color="#cf634c"/><stop offset="0.265" stop-color="#d87c5e"/><stop offset="0.321" stop-color="#da9b7f"/><stop offset="0.375" stop-color="#c1b3ac"/><stop offset="0.425" stop-color="#98a2c5"/><stop offset="0.473" stop-color="#7482c1"/><stop offset="0.519" stop-color="#5866b9"/><stop offset="0.562" stop-color="#4756b3"/><stop offset="0.603" stop-color="#3a48af"/><stop offset="0.643" stop-color="#3642ac"/><stop offset="0.680" stop-color="#313ca8"/><stop offset="0.716" stop-color="#2d36a5"/><stop offset="0.750" stop-color="#2e36a6"/><stop offset="0.782" stop-color="#313aa8"/><stop offset="0.814" stop-color="#3541ab"/><stop offset="0.844" stop-color="#4150b1"/><stop offset="0.872" stop-color="#5564b8"/><stop offset="0.900" stop-color="#7f8ec4"/><stop offset="0.926" stop-color="#b9b6b6"/><stop offset="0.952" stop-color="#da9b7f"/><stop offset="0.976" stop-color="#d46e52"/><stop offset="1.000" stop-color="#bd4737"/></linearGradient><linearGradient id="g84" gradientUnits="userSpaceOnUse" x1="304.1" y1="98.1" x2="444.9" y2="48.8"><stop offset="0.000" stop-color="#b1352b"/><stop offset="0.073" stop-color="#b74133"/><stop offset="0.141" stop-color="#be4c3b"/><stop offset="0.205" stop-color="#cb614a"/><stop offset="0.265" stop-color="#d4795d"/><stop offset="0.322" stop-color="#d6997d"/><stop offset="0.375" stop-color="#bdb0a9"/><stop offset="0.426" stop-color="#969fc2"/><stop offset="0.474" stop-color="#7180be"/><stop offset="0.519" stop-color="#5664b6"/><stop offset="0.563" stop-color="#4654b0"/><stop offset="0.604" stop-color="#3947ab"/><stop offset="0.643" stop-color="#3541a8"/><stop offset="0.680" stop-color="#313ba5"/><stop offset="0.716" stop-color="#2d35a3"/><stop offset="0.750" stop-color="#2d35a3"/><stop offset="0.783" stop-color="#3039a5"/><stop offset="0.814" stop-color="#3440a8"/><stop offset="0.844" stop-color="#404fae"/><stop offset="0.873" stop-color="#5462b5"/><stop offset="0.900" stop-color="#7d8bc1"/><stop offset="0.927" stop-color="#b6b2b2"/><stop offset="0.952" stop-color="#d6987c"/><stop offset="0.976" stop-color="#d06c51"/><stop offset="1.000" stop-color="#ba4536"/></linearGradient><linearGradient id="g85" gradientUnits="userSpaceOnUse" x1="305.3" y1="100.8" x2="445.8" y2="50.1"><stop offset="0.000" stop-color="#ad342a"/><stop offset="0.073" stop-color="#b44032"/><stop offset="0.141" stop-color="#ba4a3a"/><stop offset="0.205" stop-color="#c75f49"/><stop offset="0.265" stop-color="#d0775b"/><stop offset="0.322" stop-color="#d1957b"/><stop offset="0.376" stop-color="#baada6"/><stop offset="0.426" stop-color="#939cbe"/><stop offset="0.474" stop-color="#6f7dba"/><stop offset="0.520" stop-color="#5462b2"/><stop offset="0.563" stop-color="#4452ad"/><stop offset="0.604" stop-color="#3745a8"/><stop offset="0.643" stop-color="#343fa5"/><stop offset="0.681" stop-color="#3039a2"/><stop offset="0.716" stop-color="#2c349f"/><stop offset="0.750" stop-color="#2c349f"/><stop offset="0.783" stop-color="#2f38a2"/><stop offset="0.814" stop-color="#333fa5"/><stop offset="0.844" stop-color="#3f4dab"/><stop offset="0.873" stop-color="#5260b1"/><stop offset="0.900" stop-color="#7b89bd"/><stop offset="0.927" stop-color="#b3afaf"/><stop offset="0.952" stop-color="#d2957a"/><stop offset="0.976" stop-color="#cc6a4f"/><stop offset="1.000" stop-color="#b64435"/></linearGradient><linearGradient id="g86" gradientUnits="userSpaceOnUse" x1="306.3" y1="103.5" x2="446.7" y2="51.6"><stop offset="0.000" stop-color="#a93229"/><stop offset="0.073" stop-color="#af3e30"/><stop offset="0.141" stop-color="#b64938"/><stop offset="0.205" stop-color="#c25d47"/><stop offset="0.266" stop-color="#cb7459"/><stop offset="0.322" stop-color="#cd9278"/><stop offset="0.376" stop-color="#b5a9a2"/><stop offset="0.427" stop-color="#8f98b9"/><stop offset="0.475" stop-color="#6d7ab6"/><stop offset="0.520" stop-color="#5260ae"/><stop offset="0.564" stop-color="#4351a9"/><stop offset="0.605" stop-color="#3644a4"/><stop offset="0.644" stop-color="#323ea1"/><stop offset="0.681" stop-color="#2f389f"/><stop offset="0.717" stop-color="#2b329c"/><stop offset="0.751" stop-color="#2b339c"/><stop offset="0.783" stop-color="#2e379e"/><stop offset="0.814" stop-color="#323da1"/><stop offset="0.844" stop-color="#3e4ba7"/><stop offset="0.873" stop-color="#505ead"/><stop offset="0.900" stop-color="#7886b8"/><stop offset="0.927" stop-color="#aeabab"/><stop offset="0.952" stop-color="#cd9277"/><stop offset="0.977" stop-color="#c7684d"/><stop offset="1.000" stop-color="#b24234"/></linearGradient><linearGradient id="g87" gradientUnits="userSpaceOnUse" x1="307.3" y1="106.4" x2="447.5" y2="53.1"><stop offset="0.000" stop-color="#a53128"/><stop offset="0.073" stop-color="#ab3d2f"/><stop offset="0.141" stop-color="#b14737"/><stop offset="0.205" stop-color="#bd5b45"/><stop offset="0.266" stop-color="#c67157"/><stop offset="0.323" stop-color="#c88e75"/><stop offset="0.376" stop-color="#b1a49e"/><stop offset="0.427" stop-color="#8c94b5"/><stop offset="0.475" stop-color="#6a77b1"/><stop offset="0.521" stop-color="#505eaa"/><stop offset="0.564" stop-color="#414fa5"/><stop offset="0.605" stop-color="#3542a0"/><stop offset="0.644" stop-color="#313c9d"/><stop offset="0.681" stop-color="#2d379b"/><stop offset="0.717" stop-color="#2a3198"/><stop offset="0.751" stop-color="#2a3198"/><stop offset="0.784" stop-color="#2d369a"/><stop offset="0.815" stop-color="#313c9d"/><stop offset="0.844" stop-color="#3c49a3"/><stop offset="0.873" stop-color="#4e5ca9"/><stop offset="0.901" stop-color="#7582b4"/><stop offset="0.927" stop-color="#aaa7a7"/><stop offset="0.952" stop-color="#c88e74"/><stop offset="0.977" stop-color="#c2654b"/><stop offset="1.000" stop-color="#ad4132"/></linearGradient><linearGradient id="g88" gradientUnits="userSpaceOnUse" x1="308.3" y1="109.4" x2="448.2" y2="54.6"><stop offset="0.000" stop-color="#a13027"/><stop offset="0.073" stop-color="#a63b2e"/><stop offset="0.141" stop-color="#ac4535"/><stop offset="0.206" stop-color="#b85843"/><stop offset="0.266" stop-color="#c06e54"/><stop offset="0.323" stop-color="#c28a72"/><stop offset="0.377" stop-color="#aca099"/><stop offset="0.427" stop-color="#8890b0"/><stop offset="0.475" stop-color="#6774ac"/><stop offset="0.521" stop-color="#4e5ba5"/><stop offset="0.564" stop-color="#3f4ca0"/><stop offset="0.605" stop-color="#33409c"/><stop offset="0.644" stop-color="#303b99"/><stop offset="0.682" stop-color="#2c3596"/><stop offset="0.717" stop-color="#283094"/><stop offset="0.751" stop-color="#293094"/><stop offset="0.784" stop-color="#2b3496"/><stop offset="0.815" stop-color="#2f3a99"/><stop offset="0.845" stop-color="#3a479e"/><stop offset="0.873" stop-color="#4c59a4"/><stop offset="0.901" stop-color="#727faf"/><stop offset="0.927" stop-color="#a5a2a2"/><stop offset="0.952" stop-color="#c28a71"/><stop offset="0.977" stop-color="#bd6249"/><stop offset="1.000" stop-color="#a93f31"/></linearGradient><linearGradient id="g89" gradientUnits="userSpaceOnUse" x1="309.1" y1="112.4" x2="448.8" y2="56.2"><stop offset="0.000" stop-color="#9c2e26"/><stop offset="0.073" stop-color="#a1392c"/><stop offset="0.142" stop-color="#a74334"/><stop offset="0.206" stop-color="#b25641"/><stop offset="0.266" stop-color="#bb6b52"/><stop offset="0.323" stop-color="#bc866e"/><stop offset="0.377" stop-color="#a79b95"/><stop offset="0.428" stop-color="#848caa"/><stop offset="0.476" stop-color="#6470a7"/><stop offset="0.521" stop-color="#4c58a0"/><stop offset="0.564" stop-color="#3d4a9b"/><stop offset="0.606" stop-color="#323e97"/><stop offset="0.645" stop-color="#2e3994"/><stop offset="0.682" stop-color="#2b3492"/><stop offset="0.718" stop-color="#272e8f"/><stop offset="0.751" stop-color="#272f8f"/><stop offset="0.784" stop-color="#2a3291"/><stop offset="0.815" stop-color="#2e3894"/><stop offset="0.845" stop-color="#394599"/><stop offset="0.873" stop-color="#4a579f"/><stop offset="0.901" stop-color="#6e7baa"/><stop offset="0.927" stop-color="#a09d9d"/><stop offset="0.952" stop-color="#bc866d"/><stop offset="0.977" stop-color="#b75f47"/><stop offset="1.000" stop-color="#a43d2f"/></linearGradient><linearGradient id="g90" gradientUnits="userSpaceOnUse" x1="309.8" y1="115.4" x2="449.4" y2="57.8"><stop offset="0.000" stop-color="#962d25"/><stop offset="0.073" stop-color="#9c372b"/><stop offset="0.142" stop-color="#a24132"/><stop offset="0.206" stop-color="#ad533f"/><stop offset="0.266" stop-color="#b4674f"/><stop offset="0.323" stop-color="#b6826b"/><stop offset="0.377" stop-color="#a19690"/><stop offset="0.428" stop-color="#7f87a5"/><stop offset="0.476" stop-color="#616da1"/><stop offset="0.521" stop-color="#49559b"/><stop offset="0.565" stop-color="#3b4896"/><stop offset="0.606" stop-color="#303c92"/><stop offset="0.645" stop-color="#2d378f"/><stop offset="0.682" stop-color="#29328d"/><stop offset="0.718" stop-color="#262d8a"/><stop offset="0.752" stop-color="#262d8a"/><stop offset="0.784" stop-color="#29318c"/><stop offset="0.815" stop-color="#2c368f"/><stop offset="0.845" stop-color="#374394"/><stop offset="0.873" stop-color="#47549a"/><stop offset="0.901" stop-color="#6a77a4"/><stop offset="0.927" stop-color="#9b9898"/><stop offset="0.952" stop-color="#b6816a"/><stop offset="0.977" stop-color="#b15c45"/><stop offset="1.000" stop-color="#9e3b2e"/></linearGradient><linearGradient id="g91" gradientUnits="userSpaceOnUse" x1="310.5" y1="118.5" x2="449.9" y2="59.5"><stop offset="0.000" stop-color="#912b23"/><stop offset="0.073" stop-color="#963529"/><stop offset="0.142" stop-color="#9c3e30"/><stop offset="0.206" stop-color="#a6503d"/><stop offset="0.267" stop-color="#ae644c"/><stop offset="0.324" stop-color="#af7d67"/><stop offset="0.377" stop-color="#9b908b"/><stop offset="0.428" stop-color="#7b829f"/><stop offset="0.476" stop-color="#5d699c"/><stop offset="0.522" stop-color="#475295"/><stop offset="0.565" stop-color="#394591"/><stop offset="0.606" stop-color="#2e3a8d"/><stop offset="0.645" stop-color="#2b358a"/><stop offset="0.682" stop-color="#283088"/><stop offset="0.718" stop-color="#252b85"/><stop offset="0.752" stop-color="#252b85"/><stop offset="0.784" stop-color="#272f87"/><stop offset="0.815" stop-color="#2b358a"/><stop offset="0.845" stop-color="#35408f"/><stop offset="0.874" stop-color="#455194"/><stop offset="0.901" stop-color="#67729e"/><stop offset="0.927" stop-color="#959292"/><stop offset="0.952" stop-color="#b07d66"/><stop offset="0.977" stop-color="#ab5942"/><stop offset="1.000" stop-color="#98392c"/></linearGradient><linearGradient id="g92" gradientUnits="userSpaceOnUse" x1="311.0" y1="121.6" x2="450.3" y2="61.1"><stop offset="0.000" stop-color="#8b2922"/><stop offset="0.073" stop-color="#903328"/><stop offset="0.142" stop-color="#963c2e"/><stop offset="0.206" stop-color="#a04d3a"/><stop offset="0.267" stop-color="#a76049"/><stop offset="0.324" stop-color="#a87863"/><stop offset="0.377" stop-color="#958b85"/><stop offset="0.428" stop-color="#767d99"/><stop offset="0.476" stop-color="#596595"/><stop offset="0.522" stop-color="#444f8f"/><stop offset="0.565" stop-color="#37428b"/><stop offset="0.606" stop-color="#2d3887"/><stop offset="0.645" stop-color="#293385"/><stop offset="0.682" stop-color="#262e82"/><stop offset="0.718" stop-color="#232980"/><stop offset="0.752" stop-color="#232a80"/><stop offset="0.784" stop-color="#262d82"/><stop offset="0.815" stop-color="#293285"/><stop offset="0.845" stop-color="#333e89"/><stop offset="0.874" stop-color="#424d8f"/><stop offset="0.901" stop-color="#636e98"/><stop offset="0.927" stop-color="#908d8d"/><stop offset="0.952" stop-color="#a97862"/><stop offset="0.977" stop-color="#a45540"/><stop offset="1.000" stop-color="#92372a"/></linearGradient><linearGradient id="g93" gradientUnits="userSpaceOnUse" x1="311.5" y1="124.6" x2="450.6" y2="62.8"><stop offset="0.000" stop-color="#852820"/><stop offset="0.073" stop-color="#8a3126"/><stop offset="0.142" stop-color="#8f392c"/><stop offset="0.206" stop-color="#994938"/><stop offset="0.267" stop-color="#a05c46"/><stop offset="0.324" stop-color="#a1735e"/><stop offset="0.377" stop-color="#8f8580"/><stop offset="0.428" stop-color="#717892"/><stop offset="0.476" stop-color="#56608f"/><stop offset="0.522" stop-color="#414c89"/><stop offset="0.565" stop-color="#353f85"/><stop offset="0.606" stop-color="#2b3581"/><stop offset="0.645" stop-color="#28317f"/><stop offset="0.682" stop-color="#252c7d"/><stop offset="0.718" stop-color="#22287b"/><stop offset="0.752" stop-color="#22287b"/><stop offset="0.784" stop-color="#242b7c"/><stop offset="0.815" stop-color="#27307f"/><stop offset="0.845" stop-color="#303b84"/><stop offset="0.874" stop-color="#3f4a89"/><stop offset="0.901" stop-color="#5e6991"/><stop offset="0.927" stop-color="#898787"/><stop offset="0.952" stop-color="#a2735e"/><stop offset="0.977" stop-color="#9d523d"/><stop offset="1.000" stop-color="#8c3429"/></linearGradient><linearGradient id="g94" gradientUnits="userSpaceOnUse" x1="311.8" y1="127.7" x2="450.8" y2="64.5"><stop offset="0.000" stop-color="#7f261f"/><stop offset="0.073" stop-color="#842f24"/><stop offset="0.142" stop-color="#89372a"/><stop offset="0.206" stop-color="#924635"/><stop offset="0.267" stop-color="#995743"/><stop offset="0.324" stop-color="#9a6e5a"/><stop offset="0.377" stop-color="#887f7a"/><stop offset="0.428" stop-color="#6c728b"/><stop offset="0.476" stop-color="#525c89"/><stop offset="0.522" stop-color="#3e4883"/><stop offset="0.565" stop-color="#323d7f"/><stop offset="0.606" stop-color="#29337b"/><stop offset="0.645" stop-color="#262e79"/><stop offset="0.682" stop-color="#232a77"/><stop offset="0.718" stop-color="#202675"/><stop offset="0.752" stop-color="#202675"/><stop offset="0.784" stop-color="#222977"/><stop offset="0.815" stop-color="#262e79"/><stop offset="0.845" stop-color="#2e397e"/><stop offset="0.874" stop-color="#3c4782"/><stop offset="0.901" stop-color="#5a648b"/><stop offset="0.927" stop-color="#838080"/><stop offset="0.952" stop-color="#9a6d59"/><stop offset="0.977" stop-color="#964e3a"/><stop offset="1.000" stop-color="#863227"/></linearGradient><linearGradient id="g95" gradientUnits="userSpaceOnUse" x1="312.1" y1="130.7" x2="450.9" y2="66.1"><stop offset="0.000" stop-color="#79241d"/><stop offset="0.073" stop-color="#7d2c23"/><stop offset="0.142" stop-color="#823428"/><stop offset="0.206" stop-color="#8b4333"/><stop offset="0.267" stop-color="#91533f"/><stop offset="0.324" stop-color="#926856"/><stop offset="0.377" stop-color="#827974"/><stop offset="0.428" stop-color="#676d85"/><stop offset="0.476" stop-color="#4e5882"/><stop offset="0.522" stop-color="#3b457c"/><stop offset="0.565" stop-color="#303a79"/><stop offset="0.606" stop-color="#273075"/><stop offset="0.645" stop-color="#242c73"/><stop offset="0.682" stop-color="#212871"/><stop offset="0.718" stop-color="#1f246f"/><stop offset="0.752" stop-color="#1f246f"/><stop offset="0.784" stop-color="#212771"/><stop offset="0.815" stop-color="#242c73"/><stop offset="0.845" stop-color="#2c3677"/><stop offset="0.874" stop-color="#39437c"/><stop offset="0.901" stop-color="#566084"/><stop offset="0.927" stop-color="#7d7a7a"/><stop offset="0.952" stop-color="#936855"/><stop offset="0.977" stop-color="#8f4a37"/><stop offset="1.000" stop-color="#7f2f25"/></linearGradient><linearGradient id="g96" gradientUnits="userSpaceOnUse" x1="312.2" y1="133.7" x2="450.9" y2="67.8"><stop offset="0.000" stop-color="#73221c"/><stop offset="0.073" stop-color="#772a21"/><stop offset="0.142" stop-color="#7b3126"/><stop offset="0.206" stop-color="#843f30"/><stop offset="0.267" stop-color="#894f3c"/><stop offset="0.324" stop-color="#8b6351"/><stop offset="0.377" stop-color="#7b726e"/><stop offset="0.428" stop-color="#61677e"/><stop offset="0.476" stop-color="#4a537b"/><stop offset="0.522" stop-color="#384176"/><stop offset="0.565" stop-color="#2d3772"/><stop offset="0.606" stop-color="#252e6f"/><stop offset="0.645" stop-color="#222a6d"/><stop offset="0.682" stop-color="#20266b"/><stop offset="0.718" stop-color="#1d2269"/><stop offset="0.752" stop-color="#1d226a"/><stop offset="0.784" stop-color="#1f256b"/><stop offset="0.815" stop-color="#222a6d"/><stop offset="0.845" stop-color="#2a3371"/><stop offset="0.874" stop-color="#364075"/><stop offset="0.901" stop-color="#515a7d"/><stop offset="0.927" stop-color="#767474"/><stop offset="0.952" stop-color="#8b6351"/><stop offset="0.977" stop-color="#874634"/><stop offset="1.000" stop-color="#792d23"/></linearGradient></defs><path fill="url(#g15)" d="M303.4 161.2L441.9 85.2L439.8 86.2L301.2 162.2z"/><path fill="url(#g16)" d="M302.2 161.9L440.8 85.8L438.6 86.6L299.9 162.4z"/><path fill="url(#g17)" d="M300.9 162.3L439.6 86.3L437.4 86.9L298.6 162.5z"/><path fill="url(#g18)" d="M299.7 162.5L438.4 86.7L436.1 87.1L297.3 162.4z"/><path fill="url(#g19)" d="M298.3 162.5L437.2 87.0L434.9 87.2L295.9 162.0z"/><path fill="url(#g20)" d="M297.0 162.3L435.9 87.1L433.6 87.2L294.6 161.5z"/><path fill="url(#g21)" d="M295.7 162.0L434.6 87.2L432.3 87.1L293.2 160.9z"/><path fill="url(#g22)" d="M294.3 161.4L433.3 87.2L431.0 86.8L291.8 160.0z"/><path fill="url(#g23)" d="M292.9 160.7L432.0 87.0L429.7 86.5L290.5 159.0z"/><path fill="url(#g24)" d="M291.6 159.8L430.7 86.8L428.4 86.1L289.1 157.8z"/><path fill="url(#g25)" d="M290.2 158.8L429.5 86.4L427.2 85.6L287.8 156.5z"/><path fill="url(#g26)" d="M288.9 157.6L428.2 86.0L425.9 85.0L286.5 155.1z"/><path fill="url(#g27)" d="M287.5 156.2L426.9 85.5L424.7 84.3L285.2 153.5z"/><path fill="url(#g28)" d="M286.2 154.7L425.7 84.8L423.5 83.5L283.9 151.7z"/><path fill="url(#g29)" d="M284.9 153.1L424.5 84.1L422.4 82.6L282.7 149.9z"/><path fill="url(#g30)" d="M283.7 151.4L423.3 83.3L421.3 81.7L281.5 148.0z"/><path fill="url(#g31)" d="M282.5 149.5L422.2 82.5L420.2 80.7L280.4 145.9z"/><path fill="url(#g32)" d="M281.3 147.6L421.1 81.5L419.2 79.6L279.3 143.8z"/><path fill="url(#g33)" d="M280.2 145.5L420.0 80.5L418.2 78.5L278.3 141.6z"/><path fill="url(#g34)" d="M279.1 143.4L419.0 79.4L417.3 77.3L277.3 139.3z"/><path fill="url(#g35)" d="M278.0 141.2L418.0 78.2L416.4 76.0L276.3 137.0z"/><path fill="url(#g36)" d="M277.1 138.9L417.1 77.0L415.6 74.7L275.4 134.6z"/><path fill="url(#g37)" d="M276.1 136.5L416.2 75.8L414.9 73.4L274.6 132.2z"/><path fill="url(#g38)" d="M275.3 134.1L415.5 74.5L414.2 72.0L273.9 129.7z"/><path fill="url(#g39)" d="M274.5 131.7L414.7 73.1L413.6 70.6L273.2 127.2z"/><path fill="url(#g40)" d="M273.7 129.2L414.1 71.7L413.0 69.2L272.5 124.6z"/><path fill="url(#g41)" d="M273.0 126.7L413.5 70.3L412.5 67.7L272.0 122.1z"/><path fill="url(#g42)" d="M272.4 124.1L412.9 68.9L412.1 66.2L271.5 119.5z"/><path fill="url(#g43)" d="M271.9 121.6L412.5 67.4L411.8 64.7L271.0 117.0z"/><path fill="url(#g44)" d="M271.4 119.0L412.1 65.9L411.6 63.2L270.7 114.5z"/><path fill="url(#g45)" d="M271.0 116.5L411.8 64.4L411.4 61.7L270.4 111.9z"/><path fill="url(#g46)" d="M270.6 114.0L411.5 62.9L411.3 60.2L270.2 109.5z"/><path fill="url(#g47)" d="M270.4 111.4L411.3 61.4L411.2 58.7L270.1 107.0z"/><path fill="url(#g48)" d="M270.2 109.0L411.3 59.9L411.3 57.3L270.0 104.6z"/><path fill="url(#g49)" d="M270.0 106.5L411.2 58.5L411.4 55.8L270.0 102.2z"/><path fill="url(#g50)" d="M270.0 104.1L411.3 57.0L411.6 54.4L270.1 99.9z"/><path fill="url(#g51)" d="M270.0 101.8L411.4 55.6L411.9 53.0L270.3 97.7z"/><path fill="url(#g52)" d="M270.1 99.5L411.6 54.1L412.2 51.7L270.5 95.5z"/><path fill="url(#g53)" d="M270.3 97.3L411.9 52.8L412.6 50.4L270.8 93.5z"/><path fill="url(#g54)" d="M270.6 95.1L412.3 51.4L413.1 49.1L271.2 91.5z"/><path fill="url(#g55)" d="M270.9 93.0L412.7 50.1L413.7 47.9L271.7 89.6z"/><path fill="url(#g56)" d="M271.3 91.1L413.2 48.9L414.3 46.7L272.2 87.8z"/><path fill="url(#g57)" d="M271.8 89.2L413.8 47.7L415.0 45.7L272.8 86.1z"/><path fill="url(#g58)" d="M272.3 87.4L414.5 46.5L415.8 44.6L273.5 84.5z"/><path fill="url(#g59)" d="M272.9 85.8L415.2 45.4L416.6 43.7L274.2 83.1z"/><path fill="url(#g60)" d="M273.6 84.2L415.9 44.4L417.5 42.8L275.0 81.8z"/><path fill="url(#g61)" d="M274.4 82.8L416.8 43.5L418.4 42.0L275.9 80.6z"/><path fill="url(#g62)" d="M275.2 81.5L417.7 42.6L419.4 41.3L276.9 79.6z"/><path fill="url(#g63)" d="M276.1 80.4L418.6 41.8L420.5 40.6L277.9 78.7z"/><path fill="url(#g64)" d="M277.1 79.4L419.6 41.1L421.6 40.1L278.9 78.0z"/><path fill="url(#g65)" d="M278.1 78.6L420.7 40.5L422.7 39.6L280.1 77.5z"/><path fill="url(#g66)" d="M279.2 77.9L421.8 40.0L423.9 39.3L281.2 77.1z"/><path fill="url(#g1)" d="M312.2 134.0L450.9 67.9L450.6 70.8L312.1 139.0z"/><path fill="url(#g2)" d="M312.2 136.8L450.8 69.6L450.4 72.4L311.9 141.7z"/><path fill="url(#g3)" d="M312.1 139.6L450.6 71.2L450.0 73.9L311.6 144.3z"/><path fill="url(#g4)" d="M311.9 142.3L450.3 72.7L449.6 75.4L311.2 146.7z"/><path fill="url(#g5)" d="M311.6 144.8L449.9 74.2L449.0 76.8L310.7 149.0z"/><path fill="url(#g6)" d="M311.1 147.2L449.5 75.7L448.4 78.1L310.1 151.2z"/><path fill="url(#g7)" d="M310.6 149.5L448.9 77.0L447.7 79.4L309.4 153.1z"/><path fill="url(#g8)" d="M310.0 151.6L448.3 78.4L447.0 80.5L308.6 154.9z"/><path fill="url(#g9)" d="M309.3 153.5L447.6 79.6L446.1 81.6L307.8 156.6z"/><path fill="url(#g10)" d="M308.5 155.3L446.8 80.8L445.2 82.6L306.8 158.0z"/><path fill="url(#g11)" d="M307.6 156.9L445.9 81.8L444.2 83.6L305.8 159.2z"/><path fill="url(#g12)" d="M306.6 158.2L445.0 82.8L443.2 84.4L304.7 160.3z"/><path fill="url(#g13)" d="M305.6 159.4L444.0 83.7L442.1 85.1L303.6 161.1z"/><path fill="url(#g14)" d="M304.5 160.4L443.0 84.5L441.0 85.7L302.4 161.7z"/><path fill="url(#g67)" d="M280.3 77.4L423.0 39.6L425.1 39.0L282.4 76.9z"/><path fill="url(#g68)" d="M281.5 77.0L424.1 39.2L426.4 38.9L283.7 76.8z"/><path fill="url(#g69)" d="M282.7 76.8L425.4 39.0L427.6 38.8L285.0 77.0z"/><path fill="url(#g70)" d="M284.0 76.8L426.6 38.8L428.9 38.9L286.3 77.3z"/><path fill="url(#g71)" d="M285.3 77.0L427.9 38.8L430.2 39.0L287.7 77.8z"/><path fill="url(#g72)" d="M286.6 77.4L429.2 38.9L431.5 39.3L289.1 78.5z"/><path fill="url(#g73)" d="M288.0 77.9L430.5 39.1L432.8 39.6L290.5 79.4z"/><path fill="url(#g74)" d="M289.4 78.7L431.8 39.3L434.1 40.1L291.9 80.5z"/><path fill="url(#g75)" d="M290.8 79.6L433.1 39.7L435.4 40.7L293.3 81.7z"/><path fill="url(#g76)" d="M292.2 80.7L434.4 40.2L436.7 41.3L294.7 83.1z"/><path fill="url(#g77)" d="M293.6 82.0L435.7 40.8L438.0 42.1L296.1 84.8z"/><path fill="url(#g78)" d="M295.0 83.5L437.0 41.5L439.2 43.0L297.5 86.5z"/><path fill="url(#g79)" d="M296.4 85.1L438.2 42.3L440.4 43.9L298.9 88.5z"/><path fill="url(#g80)" d="M297.8 86.9L439.4 43.2L441.6 45.0L300.2 90.6z"/><path fill="url(#g81)" d="M299.2 88.9L440.6 44.1L442.7 46.1L301.5 92.9z"/><path fill="url(#g82)" d="M300.5 91.1L441.8 45.2L443.7 47.3L302.8 95.3z"/><path fill="url(#g83)" d="M301.8 93.4L442.9 46.4L444.8 48.6L304.0 97.8z"/><path fill="url(#g84)" d="M303.1 95.8L444.0 47.6L445.7 50.0L305.2 100.5z"/><path fill="url(#g85)" d="M304.2 98.4L445.0 48.9L446.6 51.4L306.2 103.3z"/><path fill="url(#g86)" d="M305.4 101.0L445.9 50.3L447.4 52.9L307.2 106.1z"/><path fill="url(#g87)" d="M306.4 103.8L446.8 51.7L448.1 54.5L308.2 109.1z"/><path fill="url(#g88)" d="M307.4 106.7L447.5 53.2L448.8 56.0L309.0 112.1z"/><path fill="url(#g89)" d="M308.4 109.6L448.3 54.8L449.3 57.7L309.8 115.1z"/><path fill="url(#g90)" d="M309.2 112.7L448.9 56.4L449.8 59.3L310.4 118.2z"/><path fill="url(#g91)" d="M309.9 115.7L449.5 58.0L450.2 61.0L311.0 121.3z"/><path fill="url(#g92)" d="M310.6 118.8L449.9 59.6L450.5 62.6L311.4 124.3z"/><path fill="url(#g93)" d="M311.1 121.9L450.3 61.3L450.7 64.3L311.8 127.4z"/><path fill="url(#g94)" d="M311.5 124.9L450.6 63.0L450.9 66.0L312.0 130.4z"/><path fill="url(#g95)" d="M311.9 128.0L450.8 64.6L450.9 67.6L312.2 133.4z"/><path fill="url(#g96)" d="M312.1 131.0L450.9 66.3L450.8 69.2L312.2 136.3z"/><ellipse cx="383.2" cy="82.5" rx="18.6" ry="30.8" transform="rotate(-13 383.2 82.5)" fill="none" stroke="#19a55a" stroke-width="1.6" stroke-dasharray="3,2.2"/></g>
<defs><linearGradient id="cbg" x1="0" x2="1" y1="0" y2="0"><stop offset="0" stop-color="#4650ae"/><stop offset="0.1" stop-color="#5a68bd"/><stop offset="0.2" stop-color="#7f93d2"/><stop offset="0.32" stop-color="#aebfe6"/><stop offset="0.42" stop-color="#d4dff2"/><stop offset="0.5" stop-color="#e6e2de"/><stop offset="0.58" stop-color="#f0d0bd"/><stop offset="0.66" stop-color="#f5b495"/><stop offset="0.75" stop-color="#f29372"/><stop offset="0.85" stop-color="#df6a50"/><stop offset="0.93" stop-color="#c8402f"/><stop offset="1" stop-color="#b8242a"/></linearGradient></defs>
<rect id="cbar" x="275.6" y="186" width="174.2" height="14" fill="url(#cbg)"/>
<path d="M83.9,102.5v-2.3 M83.9,29.2v2.3 M114.5,102.5v-2.3 M114.5,29.2v2.3 M145.1,102.5v-2.3 M145.1,29.2v2.3 M175.7,102.5v-2.3 M175.7,29.2v2.3 M206.3,102.5v-2.3 M206.3,29.2v2.3 M53.3,93.34h2.3 M221.6,93.34h-2.3 M53.3,84.17h2.3 M221.6,84.17h-2.3 M53.3,75.01h2.3 M221.6,75.01h-2.3 M53.3,65.85h2.3 M221.6,65.85h-2.3 M53.3,56.69h2.3 M221.6,56.69h-2.3 M53.3,47.53h2.3 M221.6,47.53h-2.3 M53.3,38.36h2.3 M221.6,38.36h-2.3" stroke="#404040" stroke-width="0.8" fill="none"/>
<rect x="53.3" y="29.2" width="168.3" height="73.3" fill="none" stroke="#404040" stroke-width="1.1"/>
<path d="M83.9,205.6v-2.3 M83.9,133v2.3 M114.5,205.6v-2.3 M114.5,133v2.3 M145.1,205.6v-2.3 M145.1,133v2.3 M175.7,205.6v-2.3 M175.7,133v2.3 M206.3,205.6v-2.3 M206.3,133v2.3 M53.3,169.3h2.3 M221.6,191.08h-2.3 M221.6,176.56h-2.3 M221.6,162.04h-2.3 M221.6,147.52h-2.3" stroke="#404040" stroke-width="0.8" fill="none"/>
<rect x="53.3" y="133" width="168.3" height="72.6" fill="none" stroke="#404040" stroke-width="1.1"/>
<path d="M532.56,185.2v-2.3 M532.56,17.6v2.3 M551.31,185.2v-2.3 M551.31,17.6v2.3 M570.07,185.2v-2.3 M570.07,17.6v2.3 M588.82,185.2v-2.3 M588.82,17.6v2.3 M607.58,185.2v-2.3 M607.58,17.6v2.3 M626.33,185.2v-2.3 M626.33,17.6v2.3 M645.09,185.2v-2.3 M645.09,17.6v2.3 M663.84,185.2v-2.3 M663.84,17.6v2.3 M513.8,157.27h2.3 M682.6,157.27h-2.3 M513.8,129.33h2.3 M682.6,129.33h-2.3 M513.8,101.4h2.3 M682.6,101.4h-2.3 M513.8,73.47h2.3 M682.6,73.47h-2.3 M513.8,45.53h2.3 M682.6,45.53h-2.3" stroke="#404040" stroke-width="0.8" fill="none"/>
<rect x="513.8" y="17.6" width="168.8" height="167.6" fill="none" stroke="#404040" stroke-width="1.1"/>
<path d="M81.45,415.2v-2.3 M81.45,247.4v2.3 M109.5,415.2v-2.3 M109.5,247.4v2.3 M137.55,415.2v-2.3 M137.55,247.4v2.3 M165.6,415.2v-2.3 M165.6,247.4v2.3 M193.65,415.2v-2.3 M193.65,247.4v2.3 M53.4,387.23h2.3 M221.7,387.23h-2.3 M53.4,359.27h2.3 M221.7,359.27h-2.3 M53.4,331.3h2.3 M221.7,331.3h-2.3 M53.4,303.33h2.3 M221.7,303.33h-2.3 M53.4,275.37h2.3 M221.7,275.37h-2.3" stroke="#404040" stroke-width="0.8" fill="none"/>
<rect x="53.4" y="247.4" width="168.3" height="167.8" fill="none" stroke="#404040" stroke-width="1.1"/>
<path d="M312.73,415.2v-2.3 M312.73,247.4v2.3 M340.87,415.2v-2.3 M340.87,247.4v2.3 M369,415.2v-2.3 M369,247.4v2.3 M397.13,415.2v-2.3 M397.13,247.4v2.3 M425.27,415.2v-2.3 M425.27,247.4v2.3 M284.6,387.23h2.3 M453.4,387.23h-2.3 M284.6,359.27h2.3 M453.4,359.27h-2.3 M284.6,331.3h2.3 M453.4,331.3h-2.3 M284.6,303.33h2.3 M453.4,303.33h-2.3 M284.6,275.37h2.3 M453.4,275.37h-2.3" stroke="#404040" stroke-width="0.8" fill="none"/>
<rect x="284.6" y="247.4" width="168.8" height="167.8" fill="none" stroke="#404040" stroke-width="1.1"/>
<path d="M532.47,415.2v-2.3 M532.47,247.4v2.3 M551.23,415.2v-2.3 M551.23,247.4v2.3 M570,415.2v-2.3 M570,247.4v2.3 M588.77,415.2v-2.3 M588.77,247.4v2.3 M607.53,415.2v-2.3 M607.53,247.4v2.3 M626.3,415.2v-2.3 M626.3,247.4v2.3 M645.07,415.2v-2.3 M645.07,247.4v2.3 M663.83,415.2v-2.3 M663.83,247.4v2.3 M513.7,387.23h2.3 M682.6,387.23h-2.3 M513.7,359.27h2.3 M682.6,359.27h-2.3 M513.7,331.3h2.3 M682.6,331.3h-2.3 M513.7,303.33h2.3 M682.6,303.33h-2.3 M513.7,275.37h2.3 M682.6,275.37h-2.3" stroke="#404040" stroke-width="0.8" fill="none"/>
<rect x="513.7" y="247.4" width="168.9" height="167.8" fill="none" stroke="#404040" stroke-width="1.1"/>
<path d="M53.3,102.5 L68.6,93.34 L114.5,93.34 L221.6,29.2" stroke="#c94a7f" stroke-width="1.2" fill="none" stroke-linejoin="round"/>
<path d="M53.3,205.6 L68.6,205.6 L114.5,133 L221.6,133" stroke="#c94a7f" stroke-width="1.2" fill="none" stroke-linejoin="round"/>
<path d="M564.8,185.2 C567.5,184.05 575.45,180.63 581,178.3 C586.55,175.97 593.93,172.88 598.1,171.2 C602.27,169.52 602.6,169.53 606,168.2 C609.4,166.87 613.62,165.97 618.5,163.2 C623.38,160.43 630.5,156.13 635.3,151.6 C640.1,147.07 644.1,141.8 647.3,136 C650.5,130.2 652.7,122.8 654.5,116.8 C656.3,110.8 656.7,107.03 658.1,100 C659.5,92.97 661.3,84.03 662.9,74.6 C664.5,65.17 666.38,52.9 667.7,43.4 C669.02,33.9 670.28,21.9 670.8,17.6" stroke="#333" stroke-width="1.1" fill="none" stroke-dasharray="3.6,3.6" stroke-linejoin="round"/>
<path d="M521.4,185.2 C522.83,184.05 527.08,180.63 530,178.3 C532.92,175.97 537.42,172.38 538.9,171.2" stroke="#4d8fd6" stroke-width="1.1" fill="none" stroke-linejoin="round"/>
<path d="M594.7,73.4 C595.35,68.67 597.28,54.3 598.6,45 C599.92,35.7 601.93,22.17 602.6,17.6" stroke="#4d8fd6" stroke-width="1.1" fill="none" stroke-linejoin="round"/>
<path d="M538.8,171.2 C539.87,170.43 543.05,168.13 545.2,166.6 C547.35,165.07 549.55,163.68 551.7,162 C553.85,160.32 556.08,158.45 558.1,156.5 C560.12,154.55 561.9,152.38 563.8,150.3 C565.7,148.22 568.05,145.85 569.5,144 C570.95,142.15 571.55,140.87 572.5,139.2 C573.45,137.53 574.28,135.7 575.2,134 C576.12,132.3 577.12,130.67 578,129 C578.88,127.33 579.47,126.5 580.5,124 C581.53,121.5 583.02,117.42 584.2,114 C585.38,110.58 586.55,107.08 587.6,103.5 C588.65,99.92 589.67,95.92 590.5,92.5 C591.33,89.08 591.9,86.18 592.6,83 C593.3,79.82 594.35,75 594.7,73.4" stroke="#e2402f" stroke-width="1.1" fill="none" stroke-linejoin="round"/>
<path d="M538.9,171.2 L598.1,171.2" stroke="#e2402f" stroke-width="1.1" fill="none" stroke-linejoin="round"/>
<path d="M569,182.7 L598.1,171.2" stroke="#e2402f" stroke-width="1.1" fill="none" stroke-linejoin="round"/>
<path d="M72.7,401.4 C73.3,401.1 72.53,400.85 76.3,399.6 C80.07,398.35 89.32,395.67 95.3,393.9 C101.28,392.13 106.08,391 112.2,389 C118.32,387 125.42,385.2 132,381.9 C138.58,378.6 147.5,372.38 151.7,369.2 C155.9,366.02 154.82,365.58 157.2,362.8 C159.58,360.02 163.12,355.85 166,352.5 C168.88,349.15 171.17,347.68 174.5,342.7 C177.83,337.72 182.65,329.78 186,322.6 C189.35,315.42 191.97,306.78 194.6,299.6 C197.23,292.42 199.65,285.73 201.8,279.5 C203.95,273.27 205.83,267.52 207.5,262.2 C209.17,256.88 211.08,250.03 211.8,247.6" stroke="#333" stroke-width="1.1" fill="none" stroke-dasharray="3.6,3.6" stroke-linejoin="round"/>
<path d="M139,415.2 C138.42,413.88 136.2,409.6 135.5,407.3 C134.8,405 134.45,403.28 134.8,401.4 C135.15,399.52 136.18,398.18 137.6,396 C139.02,393.82 140.95,391.12 143.3,388.3 C145.65,385.48 147.98,383.82 151.7,379.1 C155.42,374.38 161.68,366.07 165.6,360 C169.52,353.93 172.28,348.53 175.2,342.7 C178.12,336.87 180.7,331.28 183.1,325 C185.5,318.72 187.58,311.67 189.6,305 C191.62,298.33 193.88,289.67 195.2,285 C196.52,280.33 196.4,281 197.5,277 C198.6,273 200.47,265.9 201.8,261 C203.13,256.1 204.88,249.83 205.5,247.6" stroke="#4d8fd6" stroke-width="1.1" fill="none" stroke-linejoin="round"/>
<path d="M53.4,414.6 C54.03,413.47 55.62,409.47 57.2,407.8 C58.78,406.13 60.32,405.67 62.9,404.6 C65.48,403.53 71.07,401.93 72.7,401.4" stroke="#e2402f" stroke-width="1.1" fill="none" stroke-linejoin="round"/>
<path d="M72.7,401.4 L134.8,401.4" stroke="#e2402f" stroke-width="1.1" fill="none" stroke-linejoin="round"/>
<path d="M134.8,401.4 C135.27,400.5 136.18,398.18 137.6,396 C139.02,393.82 140.95,391.12 143.3,388.3 C145.65,385.48 147.93,383.77 151.7,379.1 C155.47,374.43 161.87,366.28 165.9,360.3 C169.93,354.32 172.8,348.92 175.9,343.2 C179,337.48 181.87,332.32 184.5,326 C187.13,319.68 190.5,308.75 191.7,305.3" stroke="#e2402f" stroke-width="1.1" fill="none" stroke-linejoin="round"/>
<path d="M284.8,414.2 C285.02,413.32 284.13,416.75 286.1,408.9 C288.07,401.05 293.15,379.9 296.6,367.1 C300.05,354.3 301.1,351.72 306.8,332.1 C312.5,312.48 326.7,263.48 330.8,249.4 C334.9,235.32 331.3,247.9 331.4,247.6" stroke="#333" stroke-width="1.1" fill="none" stroke-dasharray="3.6,3.6" stroke-linejoin="round"/>
<path d="M299.2,415.2 C299.53,414.42 300.57,412.03 301.2,410.5 C301.83,408.97 302.38,407.48 303,406 C303.62,404.52 304.18,403.17 304.9,401.6 C305.62,400.03 306.42,398.18 307.3,396.6 C308.18,395.02 309.05,393.7 310.2,392.1 C311.35,390.5 312.52,388.98 314.2,387 C315.88,385.02 318.08,382.63 320.3,380.2 C322.52,377.77 325.05,375.03 327.5,372.4 C329.95,369.77 332.25,367.22 335,364.4 C337.75,361.58 338.92,360.72 344,355.5 C349.08,350.28 348.32,351.08 365.5,333.1 C382.68,315.12 433.5,261.85 447.1,247.6" stroke="#4d8fd6" stroke-width="1.1" fill="none" stroke-linejoin="round"/>
<path d="M284.9,414.1 C285.08,413.08 285.62,410.08 286,408 C286.38,405.92 287,402.67 287.2,401.6" stroke="#e2402f" stroke-width="1.1" fill="none" stroke-linejoin="round"/>
<path d="M287.2,401.6 L304.9,401.6" stroke="#e2402f" stroke-width="1.1" fill="none" stroke-linejoin="round"/>
<path d="M304.9,401.6 C305.33,400.83 306.57,398.5 307.5,397 C308.43,395.5 309.33,394.17 310.5,392.6 C311.67,391.03 312.82,389.55 314.5,387.6 C316.18,385.65 318.37,383.33 320.6,380.9 C322.83,378.47 325.47,375.62 327.9,373 C330.33,370.38 332.52,367.97 335.2,365.2 C337.88,362.43 338.75,361.72 344,356.4 C349.25,351.08 358.12,342.13 366.7,333.3 C375.28,324.47 390.7,308.38 395.5,303.4" stroke="#e2402f" stroke-width="1.1" fill="none" stroke-linejoin="round"/>
<path d="M513.7,415.2 C514.08,413.92 515.03,409.98 516,407.5 C516.97,405.02 516.83,403.6 519.5,400.3 C522.17,397 527.42,392.3 532,387.7 C536.58,383.1 541.58,378.12 547,372.7 C552.42,367.28 557.58,362.17 564.5,355.2 C571.42,348.23 577.25,341.7 588.5,330.9 C599.75,320.1 617.4,303.98 632,290.4 C646.6,276.82 668.4,256.53 676.1,249.4 C683.8,242.27 677.85,247.9 678.2,247.6" stroke="#333" stroke-width="1.1" fill="none" stroke-dasharray="3.6,3.6" stroke-linejoin="round"/>
<path d="M513.7,415.2 C513.78,414.5 513.83,412.5 514.2,411 C514.57,409.5 515.17,407.83 515.9,406.2 C516.63,404.57 517.52,403.03 518.6,401.2 C519.68,399.37 520.87,397.53 522.4,395.2 C523.93,392.87 525.67,390.2 527.8,387.2 C529.93,384.2 532.42,380.87 535.2,377.2 C537.98,373.53 541.3,369.2 544.5,365.2 C547.7,361.2 550.92,357.37 554.4,353.2 C557.88,349.03 561.67,344.53 565.4,340.2 C569.13,335.87 573.07,331.37 576.8,327.2 C580.53,323.03 584.1,319.18 587.8,315.2 C591.5,311.22 588.37,314.57 599,303.3 C609.63,292.03 642.83,256.88 651.6,247.6" stroke="#4d8fd6" stroke-width="1.1" fill="none" stroke-linejoin="round"/>
<path d="M513.8,414.6 C513.83,414.37 513.83,413.93 514,413.2 C514.17,412.47 514.37,411.37 514.8,410.2 C515.23,409.03 515.83,407.7 516.6,406.2 C517.37,404.7 518.3,403.03 519.4,401.2 C520.5,399.37 521.67,397.53 523.2,395.2 C524.73,392.87 526.47,390.2 528.6,387.2 C530.73,384.2 533.22,380.87 536,377.2 C538.78,373.53 542.1,369.2 545.3,365.2 C548.5,361.2 551.7,357.37 555.2,353.2 C558.7,349.03 562.53,344.53 566.3,340.2 C570.07,335.87 574.03,331.37 577.8,327.2 C581.57,323.03 585.18,319.18 588.9,315.2 C592.62,311.22 598.23,305.28 600.1,303.3" stroke="#e2402f" stroke-width="1.1" fill="none" stroke-linejoin="round"/>
<path d="M578.51,180.09 L582.6,175.7 L576.62,175.18" stroke="#333" stroke-width="0.9" fill="none"/>
<path d="M563.49,168.57 L558.1,171.2 L563.49,173.83" stroke="#333" stroke-width="0.9" fill="none"/>
<path d="M576.6,137.4 L576.7,131.4 L571.91,135.01" stroke="#333" stroke-width="0.9" fill="none"/>
<path d="M58.89,409.36 L62.9,404.9 L56.91,404.48" stroke="#333" stroke-width="0.9" fill="none"/>
<path d="M101.91,404.03 L107.3,401.4 L101.91,398.77" stroke="#333" stroke-width="0.9" fill="none"/>
<path d="M149.05,386.17 L151,380.5 L145.33,382.45" stroke="#333" stroke-width="0.9" fill="none"/>
<path d="M184.9,330 L184.8,324 L180.14,327.78" stroke="#333" stroke-width="0.9" fill="none"/>
<path d="M288.15,411.02 L286.7,405.2 L283.01,409.93" stroke="#333" stroke-width="0.9" fill="none"/>
<path d="M294.31,404.23 L299.7,401.6 L294.31,398.97" stroke="#333" stroke-width="0.9" fill="none"/>
<path d="M319.15,386.37 L321.1,380.7 L315.43,382.65" stroke="#333" stroke-width="0.9" fill="none"/>
<path d="M517.39,410.4 L517.6,404.4 L512.75,407.93" stroke="#333" stroke-width="0.9" fill="none"/>
<path d="M532.45,383.92 L533.9,378.1 L528.42,380.54" stroke="#333" stroke-width="0.9" fill="none"/>
<path d="M10.2,473.3H37.8" stroke="#333" stroke-width="1" stroke-dasharray="3,2.6"/>
<path d="M274.4,473.3H301.4" stroke="#4d8fd6" stroke-width="1.1"/>
<path d="M545.1,473.3H573.1" stroke="#e2402f" stroke-width="1.2"/>
<text id="a1y80" x="50.2" y="33.8" style="font-size:12px" fill="#111" textLength="12.2" lengthAdjust="spacingAndGlyphs" text-anchor="end">80</text>
<text id="a1y60" x="50.2" y="52.1" style="font-size:12px" fill="#111" textLength="12.2" lengthAdjust="spacingAndGlyphs" text-anchor="end">60</text>
<text id="a1y40" x="50.2" y="70.45" style="font-size:12px" fill="#111" textLength="12.2" lengthAdjust="spacingAndGlyphs" text-anchor="end">40</text>
<text id="a1y20" x="50.2" y="88.8" style="font-size:12px" fill="#111" textLength="12.2" lengthAdjust="spacingAndGlyphs" text-anchor="end">20</text>
<text id="a1y0" x="50.2" y="107.1" style="font-size:12px" fill="#111" text-anchor="end">0</text>
<text id="a1x0" x="52.8" y="113.4" style="font-size:12px" fill="#111" text-anchor="middle">0</text>
<text id="a1x10" x="83.4" y="113.4" style="font-size:12px" fill="#111" textLength="13.2" lengthAdjust="spacingAndGlyphs" text-anchor="middle">10</text>
<text id="a1x20" x="114.5" y="113.4" style="font-size:12px" fill="#111" textLength="12.2" lengthAdjust="spacingAndGlyphs" text-anchor="middle">20</text>
<text id="a1x30" x="145.1" y="113.4" style="font-size:12px" fill="#111" textLength="12.2" lengthAdjust="spacingAndGlyphs" text-anchor="middle">30</text>
<text id="a1x40" x="175.7" y="113.4" style="font-size:12px" fill="#111" textLength="12.2" lengthAdjust="spacingAndGlyphs" text-anchor="middle">40</text>
<text id="a1x50" x="206.3" y="113.4" style="font-size:12px" fill="#111" textLength="12.2" lengthAdjust="spacingAndGlyphs" text-anchor="middle">50</text>
<text id="a1xl" x="116.4" y="124.7" style="font-size:11.8px" fill="#111" textLength="37.6" lengthAdjust="spacingAndGlyphs">Time (s)</text>
<text id="a1yl" transform="translate(25.6,107) rotate(-90)" x="0" y="0" style="font-size:11.8px" fill="#111" textLength="82" lengthAdjust="spacingAndGlyphs">Pressure (mmHg)</text>
<text id="a2y15" x="50" y="138.3" style="font-size:12px" fill="#111" textLength="13.6" lengthAdjust="spacingAndGlyphs" text-anchor="end">1.5</text>
<text id="a2y125" x="50" y="172.5" style="font-size:12px" fill="#111" textLength="20" lengthAdjust="spacingAndGlyphs" text-anchor="end">1.25</text>
<text id="a2y1" x="48.6" y="209.7" style="font-size:12px" fill="#111" text-anchor="end">1</text>
<text id="a2x0" x="52.8" y="216.9" style="font-size:12px" fill="#111" text-anchor="middle">0</text>
<text id="a2x10" x="83.4" y="216.9" style="font-size:12px" fill="#111" textLength="13.2" lengthAdjust="spacingAndGlyphs" text-anchor="middle">10</text>
<text id="a2x20" x="114.5" y="216.9" style="font-size:12px" fill="#111" textLength="12.2" lengthAdjust="spacingAndGlyphs" text-anchor="middle">20</text>
<text id="a2x30" x="145.1" y="216.9" style="font-size:12px" fill="#111" textLength="12.2" lengthAdjust="spacingAndGlyphs" text-anchor="middle">30</text>
<text id="a2x40" x="175.7" y="216.9" style="font-size:12px" fill="#111" textLength="12.2" lengthAdjust="spacingAndGlyphs" text-anchor="middle">40</text>
<text id="a2x50" x="206.3" y="216.9" style="font-size:12px" fill="#111" textLength="12.2" lengthAdjust="spacingAndGlyphs" text-anchor="middle">50</text>
<text id="a2xl" x="115.6" y="227.9" style="font-size:11.8px" fill="#111" textLength="38.6" lengthAdjust="spacingAndGlyphs">Time (s)</text>
<text id="a2yl" transform="translate(26.4,203.8) rotate(-90)" x="0" y="0" style="font-size:11.8px" fill="#111" textLength="60.4" lengthAdjust="spacingAndGlyphs">Axial stretch</text>
<text id="atitle" x="72" y="21.5" style="font-size:15.6px" fill="#111" textLength="127.8" lengthAdjust="spacingAndGlyphs">Loading conditions</text>
<text id="labA" x="5.5" y="15" style="font-size:17px;font-weight:bold" fill="#dcdcdc" textLength="11.1" lengthAdjust="spacingAndGlyphs" stroke="#a8a8a8" stroke-width="0.8">A</text>
<text id="labB" x="240.6" y="14.6" style="font-size:16.4px;font-weight:bold" fill="#111" textLength="8.2" lengthAdjust="spacingAndGlyphs">B</text>
<text id="btitle" x="263.6" y="21" style="font-size:15.2px" fill="#111" textLength="194.6" lengthAdjust="spacingAndGlyphs">Final deformed configuration</text>
<text id="cb1" x="264.6" y="218.7" style="font-size:13.7px" fill="#111" textLength="19" lengthAdjust="spacingAndGlyphs">1.6</text>
<text id="cbl" x="296.2" y="218.7" style="font-size:13.7px" fill="#111" textLength="131" lengthAdjust="spacingAndGlyphs">Displacement (mm)</text>
<text id="cb2" x="435.4" y="218.7" style="font-size:13.7px" fill="#111" textLength="25.2" lengthAdjust="spacingAndGlyphs">15.1</text>
<text id="labC" x="470" y="14.6" style="font-size:16.4px;font-weight:bold" fill="#111" textLength="9" lengthAdjust="spacingAndGlyphs">C</text>
<text id="cy120" x="507" y="24.1" style="font-size:14.2px" fill="#111" textLength="24.2" lengthAdjust="spacingAndGlyphs" text-anchor="end">120</text>
<text id="cy80" x="507" y="79.3" style="font-size:14.2px" fill="#111" textLength="15.8" lengthAdjust="spacingAndGlyphs" text-anchor="end">80</text>
<text id="cy40" x="507" y="135.2" style="font-size:14.2px" fill="#111" textLength="15.8" lengthAdjust="spacingAndGlyphs" text-anchor="end">40</text>
<text id="cy0" x="507" y="190.9" style="font-size:14.2px" fill="#111" text-anchor="end">0</text>
<text id="cx6" x="513.8" y="202.1" style="font-size:14.2px" fill="#111" text-anchor="middle">6</text>
<text id="cx8" x="551.37" y="202.1" style="font-size:14.2px" fill="#111" text-anchor="middle">8</text>
<text id="cx10" x="588.93" y="202.1" style="font-size:14.2px" fill="#111" textLength="16.8" lengthAdjust="spacingAndGlyphs" text-anchor="middle">10</text>
<text id="cx12" x="626" y="202.1" style="font-size:14.2px" fill="#111" textLength="16.8" lengthAdjust="spacingAndGlyphs" text-anchor="middle">12</text>
<text id="cx14" x="663.07" y="202.1" style="font-size:14.2px" fill="#111" textLength="16.8" lengthAdjust="spacingAndGlyphs" text-anchor="middle">14</text>
<text id="cxl" x="521.6" y="218.9" style="font-size:14.4px" fill="#111" textLength="157.4" lengthAdjust="spacingAndGlyphs">Midsurface radius (mm)</text>
<text id="cylab" transform="translate(484.1,158.6) rotate(-90)" x="0" y="0" style="font-size:14.4px" fill="#111" textLength="114" lengthAdjust="spacingAndGlyphs">Pressure (mmHg)</text>
<text id="labD" x="5.8" y="247.7" style="font-size:17px;font-weight:bold" fill="#dcdcdc" textLength="10.4" lengthAdjust="spacingAndGlyphs" stroke="#a8a8a8" stroke-width="0.8">D</text>
<text id="dy120" x="48.4" y="254.6" style="font-size:14.2px" fill="#111" textLength="24.2" lengthAdjust="spacingAndGlyphs" text-anchor="end">120</text>
<text id="dy80" x="48.4" y="309.8" style="font-size:14.2px" fill="#111" textLength="15.8" lengthAdjust="spacingAndGlyphs" text-anchor="end">80</text>
<text id="dy40" x="48.4" y="365.7" style="font-size:14.2px" fill="#111" textLength="15.8" lengthAdjust="spacingAndGlyphs" text-anchor="end">40</text>
<text id="dy0" x="48.4" y="421.3" style="font-size:14.2px" fill="#111" text-anchor="end">0</text>
<text id="dx0" x="53.4" y="430.7" style="font-size:14.2px" fill="#111" text-anchor="middle">0</text>
<text id="dx2" x="109.5" y="430.7" style="font-size:14.2px" fill="#111" textLength="21.2" lengthAdjust="spacingAndGlyphs" text-anchor="middle">0.2</text>
<text id="dx4" x="165.6" y="430.7" style="font-size:14.2px" fill="#111" textLength="20.2" lengthAdjust="spacingAndGlyphs" text-anchor="middle">0.4</text>
<text id="dx6" x="221.7" y="430.7" style="font-size:14.2px" fill="#111" textLength="21.2" lengthAdjust="spacingAndGlyphs" text-anchor="middle">0.6</text>
<text id="dxl" x="51.6" y="449.9" style="font-size:14.4px" fill="#111" textLength="172.8" lengthAdjust="spacingAndGlyphs">First invariant of G-L strain</text>
<text id="dyl" transform="translate(24.1,388.6) rotate(-90)" x="0" y="0" style="font-size:14.4px" fill="#111" textLength="114" lengthAdjust="spacingAndGlyphs">Pressure (mmHg)</text>
<text id="labE" x="240.4" y="247.8" style="font-size:16.4px;font-weight:bold" fill="#111" textLength="7.4" lengthAdjust="spacingAndGlyphs">E</text>
<text id="ey120" x="279.4" y="254.7" style="font-size:14.2px" fill="#111" textLength="25.2" lengthAdjust="spacingAndGlyphs" text-anchor="end">120</text>
<text id="ey80" x="279.4" y="309.8" style="font-size:14.2px" fill="#111" textLength="16.8" lengthAdjust="spacingAndGlyphs" text-anchor="end">80</text>
<text id="ey40" x="279.4" y="365.7" style="font-size:14.2px" fill="#111" textLength="16.8" lengthAdjust="spacingAndGlyphs" text-anchor="end">40</text>
<text id="ey0" x="279.4" y="421.3" style="font-size:14.2px" fill="#111" text-anchor="end">0</text>
<text id="ex0" x="284.6" y="430.9" style="font-size:14.2px" fill="#111" text-anchor="middle">0</text>
<text id="ex400" x="341.2" y="430.9" style="font-size:14.2px" fill="#111" textLength="24.2" lengthAdjust="spacingAndGlyphs" text-anchor="middle">400</text>
<text id="ex800" x="396.8" y="430.9" style="font-size:14.2px" fill="#111" textLength="24.2" lengthAdjust="spacingAndGlyphs" text-anchor="middle">800</text>
<text id="ex1200" x="452.9" y="430.9" style="font-size:14.2px" fill="#111" textLength="32.6" lengthAdjust="spacingAndGlyphs" text-anchor="middle">1200</text>
<text id="exl" x="315.6" y="449.9" style="font-size:14.4px" fill="#111" textLength="108.6" lengthAdjust="spacingAndGlyphs">Axial stress (kPa)</text>
<text id="eyl" transform="translate(255.1,388.6) rotate(-90)" x="0" y="0" style="font-size:14.4px" fill="#111" textLength="114" lengthAdjust="spacingAndGlyphs">Pressure (mmHg)</text>
<text id="labF" x="470.4" y="247.8" style="font-size:16.4px;font-weight:bold" fill="#111" textLength="8.2" lengthAdjust="spacingAndGlyphs">F</text>
<text id="fy120" x="507" y="254.7" style="font-size:14.2px" fill="#111" textLength="24.2" lengthAdjust="spacingAndGlyphs" text-anchor="end">120</text>
<text id="fy80" x="507" y="309.8" style="font-size:14.2px" fill="#111" textLength="15.8" lengthAdjust="spacingAndGlyphs" text-anchor="end">80</text>
<text id="fy40" x="507" y="365.7" style="font-size:14.2px" fill="#111" textLength="15.8" lengthAdjust="spacingAndGlyphs" text-anchor="end">40</text>
<text id="fy0" x="507" y="421.3" style="font-size:14.2px" fill="#111" text-anchor="end">0</text>
<text id="fx0" x="513.7" y="430.9" style="font-size:14.2px" fill="#111" text-anchor="middle">0</text>
<text id="fx200" x="551.4" y="430.9" style="font-size:14.2px" fill="#111" textLength="24.2" lengthAdjust="spacingAndGlyphs" text-anchor="middle">200</text>
<text id="fx400" x="588.6" y="430.9" style="font-size:14.2px" fill="#111" textLength="24.2" lengthAdjust="spacingAndGlyphs" text-anchor="middle">400</text>
<text id="fx600" x="626.3" y="430.9" style="font-size:14.2px" fill="#111" textLength="25.2" lengthAdjust="spacingAndGlyphs" text-anchor="middle">600</text>
<text id="fx800" x="664" y="430.9" style="font-size:14.2px" fill="#111" textLength="24.2" lengthAdjust="spacingAndGlyphs" text-anchor="middle">800</text>
<text id="fxl" x="508" y="449.9" style="font-size:14.4px" fill="#111" textLength="178.2" lengthAdjust="spacingAndGlyphs">Circumferential stress (kPa)</text>
<text id="fyl" transform="translate(484.1,388.6) rotate(-90)" x="0" y="0" style="font-size:14.4px" fill="#111" textLength="114" lengthAdjust="spacingAndGlyphs">Pressure (mmHg)</text>
<text id="lg1" x="45.4" y="477.8" style="font-size:10.6px" fill="#111" textLength="187.4" lengthAdjust="spacingAndGlyphs">Axisymmetric theory, axial stretch = 1</text>
<text id="lg2" x="306.4" y="477.8" style="font-size:10.6px" fill="#111" textLength="198.6" lengthAdjust="spacingAndGlyphs">Axisymmetric theory, axial stretch = 1.5</text>
<text id="lg3" x="579" y="477.8" style="font-size:10.6px" fill="#111" textLength="100.8" lengthAdjust="spacingAndGlyphs">Current formulation</text>
</svg></body></html>
